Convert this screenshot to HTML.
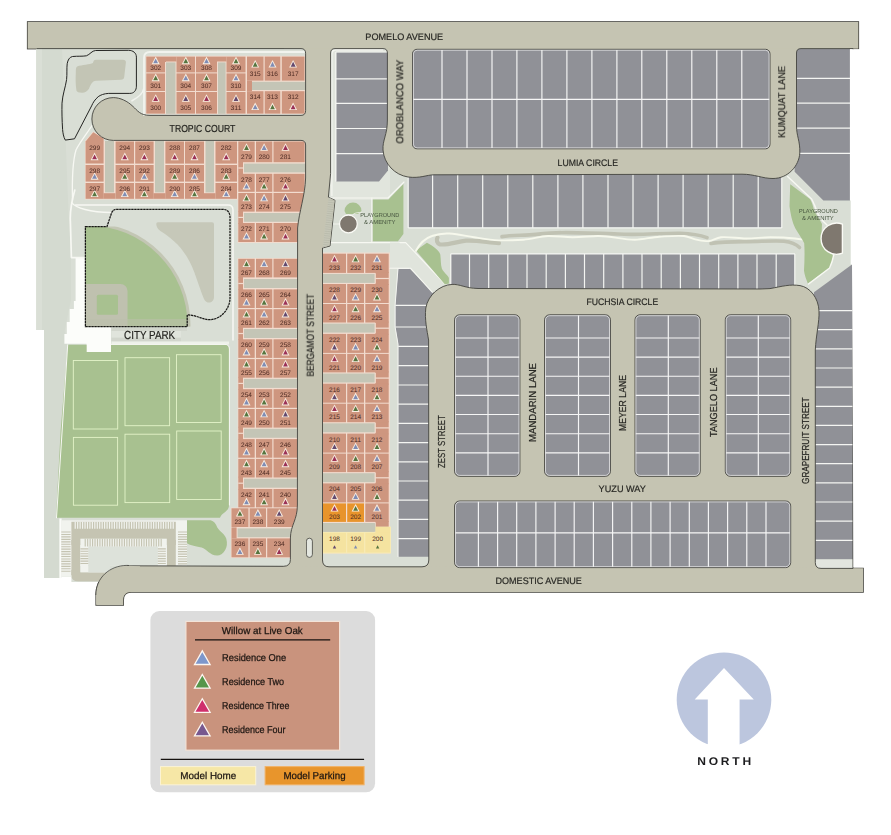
<!DOCTYPE html>
<html><head><meta charset="utf-8"><title>Willow at Live Oak Site Map</title>
<style>
html,body{margin:0;padding:0;background:#fff;}
body{width:891px;height:835px;overflow:hidden;font-family:"Liberation Sans",sans-serif;}
svg{display:block;font-family:"Liberation Sans",sans-serif;opacity:0.999;text-rendering:geometricPrecision;}
</style></head><body>
<svg width="891" height="835" viewBox="0 0 891 835">
<g>
<rect x="27.7" y="22.0" width="830.6" height="26.6" fill="#c5c4b2" stroke="#43433d" stroke-width="1.6" stroke-linejoin="miter"/>
<path d="M863,568.2 L863,592 L131,592 Q123.2,592 123.2,600 L123.2,605 L96.2,605 L96.2,595 C96.2,578 110,565.8 127,565.8 L300,566.3 Z" fill="#c5c4b2" stroke="#43433d" stroke-width="1.6" stroke-linejoin="miter"/>
<rect x="284.0" y="40.0" width="565.0" height="535.0" fill="#c5c4b2" />
<rect x="90.0" y="97.0" width="220.0" height="45.0" fill="#c5c4b2" />
<rect x="27.7" y="22.0" width="830.6" height="26.6" fill="#c5c4b2" />
<path d="M863,568.2 L863,592 L131,592 Q123.2,592 123.2,600 L123.2,605 L96.2,605 L96.2,595 C96.2,578 110,565.8 127,565.8 L300,566.3 Z" fill="#c5c4b2" />
</g>
<path d="M36.5,48.6 L301,48.6 Q305.6,48.6 305.6,53.2 L305.6,110.6 Q305.6,115.4 301,115.4 L150,115.4 C140,115.4 137.5,110.5 133,106.5 C127.5,101 120,97.6 113.3,97.6 A21.4,21.4 0 0 0 113.3,140.4 L301,140.4 Q305.6,140.4 305.6,145 L305.6,178 C305.2,195 299,212 297.6,228 L297.4,505 C297.4,520 290.6,525 290.4,538 L290.4,559.5 Q290.4,566.3 283.5,566.3 L127,565.8 L100,582 L71.4,582 L71.4,576.8 L61.3,576.8 L61.3,578 L44,578 L44,330 L36.5,330 Z" fill="#d9ded5" />
<path d="M36.5,48.6 L62,48.6 L68,200 L71,258 L71,300 L64.6,331 L67.7,344.8 L59.5,480 L59,578 L44,578 L44,330 L36.5,330 Z" fill="#d4dad0" />
<rect x="36.5" y="48.6" width="5.5" height="281.4" fill="#dadfd6" />
<path d="M75.6,257.6 L85.3,257.6 L85.3,327 L111,327 L111,352 L86.5,352 L86.5,343.8 L64.4,343.8 L64.4,334 L66.8,334 L66.8,322 L69.7,322 L69.7,309 L73.9,309 L73.9,301 L75.6,301 Z" fill="#fcfdfa" />
<path d="M77.1,66.4 C82,65 90,64.5 92.9,63.1 C93.5,61 94,59.8 96,59.8 L123,59.8 Q126,59.8 125.9,62.4 L124.2,77 Q123.9,79.7 121,79.8 L96,80.7 C92,81 90.5,85 89,88.7 C87,91.5 85,92.5 82.4,92.7 C79,92.8 77,92 76.5,90.7 C75.5,85 75.5,78 75.8,72.9 C75.8,69 76,67 77.1,66.4 Z" fill="#c3c5b5" />
<path d="M72.5,56.5 C78,56 82,56.5 86.4,55.8 C90,54.5 92,50.6 95.6,50.5 L128.5,50.3 C133,50.3 136.4,53 136.4,57.1 L136.4,86.1 C136.4,90.5 134,93.4 129.8,93.4 L108.7,93.4 C104,93.6 100.5,95 98.2,96.7 C95,99.5 93,102.5 91.6,105.9 L74.5,138.8 L65.3,140.1 C63.5,137 62.9,133 62.6,129.6 C62,120 61.8,112 62,103.2 C62.5,95 65.5,87 66.6,79.5 C67.2,74 66.6,68 67.2,63.7 C67.8,60 69.5,57 72.5,56.5 Z" fill="none" stroke="#242422" stroke-width="1.0"/>
<path d="M144,115 L144,58 Q144,52 150,52 L304,52" fill="none" stroke="#f1f3ee" stroke-width="1.8" stroke-linejoin="round" stroke-linecap="round" />
<path d="M74.8,190 C72,200 69.6,210 70.4,222 L71.4,257.6 L85,257.6" fill="none" stroke="#f7f8f3" stroke-width="1.7" stroke-linejoin="round" stroke-linecap="round" />
<path d="M71.6,202.6 C76,208 90,212.5 111,212.6" fill="none" stroke="#f7f8f3" stroke-width="1.5" stroke-linejoin="round" stroke-linecap="round" />
<path d="M75.6,205 L228,205 Q233,205 233,210 L233,340" fill="none" stroke="#f7f8f3" stroke-width="1.5" stroke-linejoin="round" stroke-linecap="round" />
<path d="M92,125.5 C88,132 80,142 76,150 C73,160 72,180 72.5,200" fill="none" stroke="#f7f8f3" stroke-width="1.3" stroke-linejoin="round" stroke-linecap="round" />
<path d="M143.6,89 C143,93.5 138,97.5 132,100.8" fill="none" stroke="#f1f3ee" stroke-width="1.6" stroke-linejoin="round" stroke-linecap="round" />
<rect x="145.6" y="55.8" width="159.4" height="58.4" fill="#f2dccf" />
<rect x="146.3" y="56.6" width="18.7" height="15.8" fill="#ce967f" />
<polygon points="155.7,56.6 159.7,64.2 151.7,64.2" fill="#f9eee2" />
<polygon points="155.7,58.4 158.1,63.3 153.2,63.3" fill="#7f8cb4" />
<text x="155.7" y="69.6" font-size="6.5" fill="#4c2a22" text-anchor="middle" textLength="10.9" lengthAdjust="spacingAndGlyphs" >302</text>
<rect x="146.3" y="73.4" width="18.7" height="17.6" fill="#ce967f" />
<polygon points="155.7,73.6 159.7,81.2 151.7,81.2" fill="#f9eee2" />
<polygon points="155.7,75.4 158.1,80.3 153.2,80.3" fill="#56753f" />
<text x="155.7" y="88.2" font-size="6.5" fill="#4c2a22" text-anchor="middle" textLength="10.9" lengthAdjust="spacingAndGlyphs" >301</text>
<rect x="146.3" y="92.0" width="18.7" height="21.6" fill="#ce967f" />
<polygon points="155.7,94.2 159.7,101.8 151.7,101.8" fill="#f9eee2" />
<polygon points="155.7,96.0 158.1,100.9 153.2,100.9" fill="#9a3156" />
<text x="155.7" y="109.8" font-size="6.5" fill="#4c2a22" text-anchor="middle" textLength="10.9" lengthAdjust="spacingAndGlyphs" >300</text>
<rect x="165.0" y="56.6" width="1.0" height="5.4" fill="#ce967f" />
<rect x="166.0" y="56.6" width="10.5" height="4.9" fill="#ce967f" />
<rect x="166.0" y="62.4" width="9.5" height="51.4" fill="#c4c5b6" />
<rect x="176.5" y="56.6" width="18.5" height="15.8" fill="#ce967f" />
<polygon points="185.8,56.6 189.8,64.2 181.8,64.2" fill="#f9eee2" />
<polygon points="185.8,58.4 188.2,63.3 183.3,63.3" fill="#56753f" />
<text x="185.8" y="69.6" font-size="6.5" fill="#4c2a22" text-anchor="middle" textLength="10.9" lengthAdjust="spacingAndGlyphs" >303</text>
<rect x="176.5" y="73.4" width="18.5" height="17.6" fill="#ce967f" />
<polygon points="185.8,73.6 189.8,81.2 181.8,81.2" fill="#f9eee2" />
<polygon points="185.8,75.4 188.2,80.3 183.3,80.3" fill="#7f8cb4" />
<text x="185.8" y="88.2" font-size="6.5" fill="#4c2a22" text-anchor="middle" textLength="10.9" lengthAdjust="spacingAndGlyphs" >304</text>
<rect x="176.5" y="92.0" width="18.5" height="21.6" fill="#ce967f" />
<polygon points="185.8,94.2 189.8,101.8 181.8,101.8" fill="#f9eee2" />
<polygon points="185.8,96.0 188.2,100.9 183.3,100.9" fill="#63496e" />
<text x="185.8" y="109.8" font-size="6.5" fill="#4c2a22" text-anchor="middle" textLength="10.9" lengthAdjust="spacingAndGlyphs" >305</text>
<rect x="196.0" y="56.6" width="21.0" height="15.8" fill="#ce967f" />
<polygon points="206.5,56.6 210.5,64.2 202.5,64.2" fill="#f9eee2" />
<polygon points="206.5,58.4 208.9,63.3 204.1,63.3" fill="#7f8cb4" />
<text x="206.5" y="69.6" font-size="6.5" fill="#4c2a22" text-anchor="middle" textLength="10.9" lengthAdjust="spacingAndGlyphs" >308</text>
<rect x="196.0" y="73.4" width="21.0" height="17.6" fill="#ce967f" />
<polygon points="206.5,73.6 210.5,81.2 202.5,81.2" fill="#f9eee2" />
<polygon points="206.5,75.4 208.9,80.3 204.1,80.3" fill="#56753f" />
<text x="206.5" y="88.2" font-size="6.5" fill="#4c2a22" text-anchor="middle" textLength="10.9" lengthAdjust="spacingAndGlyphs" >307</text>
<rect x="196.0" y="92.0" width="21.0" height="21.6" fill="#ce967f" />
<polygon points="206.5,94.2 210.5,101.8 202.5,101.8" fill="#f9eee2" />
<polygon points="206.5,96.0 208.9,100.9 204.1,100.9" fill="#9a3156" />
<text x="206.5" y="109.8" font-size="6.5" fill="#4c2a22" text-anchor="middle" textLength="10.9" lengthAdjust="spacingAndGlyphs" >306</text>
<rect x="217.0" y="56.6" width="9.5" height="4.9" fill="#ce967f" />
<rect x="218.0" y="62.4" width="7.6" height="51.4" fill="#c4c5b6" />
<rect x="226.5" y="56.6" width="19.0" height="15.8" fill="#ce967f" />
<polygon points="236.0,56.6 240.0,64.2 232.0,64.2" fill="#f9eee2" />
<polygon points="236.0,58.4 238.4,63.3 233.6,63.3" fill="#56753f" />
<text x="236.0" y="69.6" font-size="6.5" fill="#4c2a22" text-anchor="middle" textLength="10.9" lengthAdjust="spacingAndGlyphs" >309</text>
<rect x="226.5" y="73.4" width="19.0" height="17.6" fill="#ce967f" />
<polygon points="236.0,73.6 240.0,81.2 232.0,81.2" fill="#f9eee2" />
<polygon points="236.0,75.4 238.4,80.3 233.6,80.3" fill="#7f8cb4" />
<text x="236.0" y="88.2" font-size="6.5" fill="#4c2a22" text-anchor="middle" textLength="10.9" lengthAdjust="spacingAndGlyphs" >310</text>
<rect x="226.5" y="92.0" width="19.0" height="21.6" fill="#ce967f" />
<polygon points="236.0,94.2 240.0,101.8 232.0,101.8" fill="#f9eee2" />
<polygon points="236.0,96.0 238.4,100.9 233.6,100.9" fill="#63496e" />
<text x="236.0" y="109.8" font-size="6.5" fill="#4c2a22" text-anchor="middle" textLength="10.9" lengthAdjust="spacingAndGlyphs" >311</text>
<rect x="247.0" y="56.6" width="16.5" height="24.0" fill="#ce967f" />
<polygon points="255.2,60.0 259.2,67.6 251.2,67.6" fill="#f9eee2" />
<polygon points="255.2,61.8 257.7,66.7 252.8,66.7" fill="#56753f" />
<text x="255.2" y="75.6" font-size="6.5" fill="#4c2a22" text-anchor="middle" textLength="10.9" lengthAdjust="spacingAndGlyphs" >315</text>
<rect x="264.7" y="56.6" width="15.6" height="24.0" fill="#ce967f" />
<polygon points="272.5,60.0 276.5,67.6 268.5,67.6" fill="#f9eee2" />
<polygon points="272.5,61.8 274.9,66.7 270.1,66.7" fill="#7f8cb4" />
<text x="272.5" y="75.6" font-size="6.5" fill="#4c2a22" text-anchor="middle" textLength="10.9" lengthAdjust="spacingAndGlyphs" >316</text>
<rect x="281.8" y="56.6" width="22.7" height="24.0" fill="#ce967f" />
<polygon points="293.1,60.0 297.1,67.6 289.1,67.6" fill="#f9eee2" />
<polygon points="293.1,61.8 295.6,66.7 290.7,66.7" fill="#63496e" />
<text x="293.1" y="75.6" font-size="6.5" fill="#4c2a22" text-anchor="middle" textLength="10.9" lengthAdjust="spacingAndGlyphs" >317</text>
<rect x="247.0" y="91.2" width="16.5" height="22.4" fill="#ce967f" />
<polygon points="255.2,102.6 259.2,110.1 251.2,110.1" fill="#f9eee2" />
<polygon points="255.2,104.4 257.7,109.2 252.8,109.2" fill="#7f8cb4" />
<text x="255.2" y="99.2" font-size="6.5" fill="#4c2a22" text-anchor="middle" textLength="10.9" lengthAdjust="spacingAndGlyphs" >314</text>
<rect x="264.7" y="91.2" width="15.6" height="22.4" fill="#ce967f" />
<polygon points="272.5,102.6 276.5,110.1 268.5,110.1" fill="#f9eee2" />
<polygon points="272.5,104.4 274.9,109.2 270.1,109.2" fill="#56753f" />
<text x="272.5" y="99.2" font-size="6.5" fill="#4c2a22" text-anchor="middle" textLength="10.9" lengthAdjust="spacingAndGlyphs" >313</text>
<rect x="281.8" y="91.2" width="22.7" height="22.4" fill="#ce967f" />
<polygon points="293.1,102.6 297.1,110.1 289.1,110.1" fill="#f9eee2" />
<polygon points="293.1,104.4 295.6,109.2 290.7,109.2" fill="#9a3156" />
<text x="293.1" y="99.2" font-size="6.5" fill="#4c2a22" text-anchor="middle" textLength="10.9" lengthAdjust="spacingAndGlyphs" >312</text>
<rect x="247.0" y="80.6" width="5.0" height="10.6" fill="#ce967f" />
<rect x="252.0" y="81.8" width="53.0" height="8.2" fill="#c4c5b6" />
<path d="M85,199.6 L85,141 L93,131.5 L104,138 L104,141 L305,141 L305,178 C304.6,195 299,212 297.6,228 L297.6,243 L237.6,243 L237.6,199.6 Z" fill="#f2dccf" />
<polygon points="85.6,141.5 93.3,132.3 103.6,138.5 103.6,163.6 85.6,163.6" fill="#ce967f" />
<polygon points="94.6,152.6 98.6,160.2 90.6,160.2" fill="#f9eee2" />
<polygon points="94.6,154.4 97.0,159.3 92.1,159.3" fill="#9a3156" />
<text x="94.6" y="149.5" font-size="6.5" fill="#4c2a22" text-anchor="middle" textLength="10.9" lengthAdjust="spacingAndGlyphs" >299</text>
<rect x="85.6" y="165.0" width="18.0" height="16.6" fill="#ce967f" />
<polygon points="94.6,172.2 98.6,179.7 90.6,179.7" fill="#f9eee2" />
<polygon points="94.6,174.0 97.0,178.8 92.1,178.8" fill="#7f8cb4" />
<text x="94.6" y="173.0" font-size="6.5" fill="#4c2a22" text-anchor="middle" textLength="10.9" lengthAdjust="spacingAndGlyphs" >298</text>
<rect x="85.6" y="183.0" width="18.0" height="15.8" fill="#ce967f" />
<polygon points="94.6,189.6 98.6,197.1 90.6,197.1" fill="#f9eee2" />
<polygon points="94.6,191.4 97.0,196.2 92.1,196.2" fill="#56753f" />
<text x="94.6" y="191.0" font-size="6.5" fill="#4c2a22" text-anchor="middle" textLength="10.9" lengthAdjust="spacingAndGlyphs" >297</text>
<rect x="103.5" y="193.2" width="12.0" height="5.6" fill="#ce967f" />
<rect x="105.0" y="141.0" width="9.0" height="51.4" fill="#c4c5b6" />
<rect x="115.6" y="141.5" width="18.4" height="22.1" fill="#ce967f" />
<polygon points="124.8,152.6 128.8,160.2 120.8,160.2" fill="#f9eee2" />
<polygon points="124.8,154.4 127.2,159.3 122.3,159.3" fill="#9a3156" />
<text x="124.8" y="149.5" font-size="6.5" fill="#4c2a22" text-anchor="middle" textLength="10.9" lengthAdjust="spacingAndGlyphs" >294</text>
<rect x="115.6" y="165.0" width="18.4" height="16.6" fill="#ce967f" />
<polygon points="124.8,172.2 128.8,179.7 120.8,179.7" fill="#f9eee2" />
<polygon points="124.8,174.0 127.2,178.8 122.3,178.8" fill="#56753f" />
<text x="124.8" y="173.0" font-size="6.5" fill="#4c2a22" text-anchor="middle" textLength="10.9" lengthAdjust="spacingAndGlyphs" >295</text>
<rect x="115.6" y="183.0" width="18.4" height="15.8" fill="#ce967f" />
<polygon points="124.8,189.6 128.8,197.1 120.8,197.1" fill="#f9eee2" />
<polygon points="124.8,191.4 127.2,196.2 122.3,196.2" fill="#7f8cb4" />
<text x="124.8" y="191.0" font-size="6.5" fill="#4c2a22" text-anchor="middle" textLength="10.9" lengthAdjust="spacingAndGlyphs" >296</text>
<rect x="135.2" y="141.5" width="18.4" height="22.1" fill="#ce967f" />
<polygon points="144.4,152.6 148.4,160.2 140.4,160.2" fill="#f9eee2" />
<polygon points="144.4,154.4 146.8,159.3 141.9,159.3" fill="#9a3156" />
<text x="144.4" y="149.5" font-size="6.5" fill="#4c2a22" text-anchor="middle" textLength="10.9" lengthAdjust="spacingAndGlyphs" >293</text>
<rect x="135.2" y="165.0" width="18.4" height="16.6" fill="#ce967f" />
<polygon points="144.4,172.2 148.4,179.7 140.4,179.7" fill="#f9eee2" />
<polygon points="144.4,174.0 146.8,178.8 141.9,178.8" fill="#7f8cb4" />
<text x="144.4" y="173.0" font-size="6.5" fill="#4c2a22" text-anchor="middle" textLength="10.9" lengthAdjust="spacingAndGlyphs" >292</text>
<rect x="135.2" y="183.0" width="18.4" height="15.8" fill="#ce967f" />
<polygon points="144.4,189.6 148.4,197.1 140.4,197.1" fill="#f9eee2" />
<polygon points="144.4,191.4 146.8,196.2 141.9,196.2" fill="#56753f" />
<text x="144.4" y="191.0" font-size="6.5" fill="#4c2a22" text-anchor="middle" textLength="10.9" lengthAdjust="spacingAndGlyphs" >291</text>
<rect x="153.5" y="193.2" width="12.0" height="5.6" fill="#ce967f" />
<rect x="155.0" y="141.0" width="9.0" height="51.4" fill="#c4c5b6" />
<rect x="165.4" y="141.5" width="18.6" height="22.1" fill="#ce967f" />
<polygon points="174.7,152.6 178.7,160.2 170.7,160.2" fill="#f9eee2" />
<polygon points="174.7,154.4 177.1,159.3 172.2,159.3" fill="#9a3156" />
<text x="174.7" y="149.5" font-size="6.5" fill="#4c2a22" text-anchor="middle" textLength="10.9" lengthAdjust="spacingAndGlyphs" >288</text>
<rect x="165.4" y="165.0" width="18.6" height="16.6" fill="#ce967f" />
<polygon points="174.7,172.2 178.7,179.7 170.7,179.7" fill="#f9eee2" />
<polygon points="174.7,174.0 177.1,178.8 172.2,178.8" fill="#56753f" />
<text x="174.7" y="173.0" font-size="6.5" fill="#4c2a22" text-anchor="middle" textLength="10.9" lengthAdjust="spacingAndGlyphs" >289</text>
<rect x="165.4" y="183.0" width="18.6" height="15.8" fill="#ce967f" />
<polygon points="174.7,189.6 178.7,197.1 170.7,197.1" fill="#f9eee2" />
<polygon points="174.7,191.4 177.1,196.2 172.2,196.2" fill="#7f8cb4" />
<text x="174.7" y="191.0" font-size="6.5" fill="#4c2a22" text-anchor="middle" textLength="10.9" lengthAdjust="spacingAndGlyphs" >290</text>
<rect x="185.0" y="141.5" width="19.0" height="22.1" fill="#ce967f" />
<polygon points="194.5,152.6 198.5,160.2 190.5,160.2" fill="#f9eee2" />
<polygon points="194.5,154.4 196.9,159.3 192.1,159.3" fill="#9a3156" />
<text x="194.5" y="149.5" font-size="6.5" fill="#4c2a22" text-anchor="middle" textLength="10.9" lengthAdjust="spacingAndGlyphs" >287</text>
<rect x="185.0" y="165.0" width="19.0" height="16.6" fill="#ce967f" />
<polygon points="194.5,172.2 198.5,179.7 190.5,179.7" fill="#f9eee2" />
<polygon points="194.5,174.0 196.9,178.8 192.1,178.8" fill="#7f8cb4" />
<text x="194.5" y="173.0" font-size="6.5" fill="#4c2a22" text-anchor="middle" textLength="10.9" lengthAdjust="spacingAndGlyphs" >286</text>
<rect x="185.0" y="183.0" width="19.0" height="15.8" fill="#ce967f" />
<polygon points="194.5,189.6 198.5,197.1 190.5,197.1" fill="#f9eee2" />
<polygon points="194.5,191.4 196.9,196.2 192.1,196.2" fill="#56753f" />
<text x="194.5" y="191.0" font-size="6.5" fill="#4c2a22" text-anchor="middle" textLength="10.9" lengthAdjust="spacingAndGlyphs" >285</text>
<rect x="204.0" y="193.2" width="11.5" height="5.6" fill="#ce967f" />
<rect x="205.5" y="141.0" width="8.5" height="51.4" fill="#c4c5b6" />
<rect x="215.5" y="141.5" width="21.5" height="22.1" fill="#ce967f" />
<polygon points="226.2,152.6 230.2,160.2 222.2,160.2" fill="#f9eee2" />
<polygon points="226.2,154.4 228.7,159.3 223.8,159.3" fill="#9a3156" />
<text x="226.2" y="149.5" font-size="6.5" fill="#4c2a22" text-anchor="middle" textLength="10.9" lengthAdjust="spacingAndGlyphs" >282</text>
<rect x="215.5" y="165.0" width="21.5" height="16.6" fill="#ce967f" />
<polygon points="226.2,172.2 230.2,179.7 222.2,179.7" fill="#f9eee2" />
<polygon points="226.2,174.0 228.7,178.8 223.8,178.8" fill="#56753f" />
<text x="226.2" y="173.0" font-size="6.5" fill="#4c2a22" text-anchor="middle" textLength="10.9" lengthAdjust="spacingAndGlyphs" >283</text>
<rect x="215.5" y="183.0" width="21.5" height="15.8" fill="#ce967f" />
<polygon points="226.2,189.6 230.2,197.1 222.2,197.1" fill="#f9eee2" />
<polygon points="226.2,191.4 228.7,196.2 223.8,196.2" fill="#7f8cb4" />
<text x="226.2" y="191.0" font-size="6.5" fill="#4c2a22" text-anchor="middle" textLength="10.9" lengthAdjust="spacingAndGlyphs" >284</text>
<clipPath id="cw"><path d="M36.5,48.6 L301,48.6 Q305.6,48.6 305.6,53.2 L305.6,110.6 Q305.6,115.4 301,115.4 L150,115.4 C140,115.4 137.5,110.5 133,106.5 C127.5,101 120,97.6 113.3,97.6 A21.4,21.4 0 0 0 113.3,140.4 L301,140.4 Q305.6,140.4 305.6,145 L305.6,178 C305.2,195 299,212 297.6,228 L297.4,505 C297.4,520 290.6,525 290.4,538 L290.4,559.5 Q290.4,566.3 283.5,566.3 L127,565.8 L100,582 L71.4,582 L71.4,576.8 L61.3,576.8 L61.3,578 L44,578 L44,330 L36.5,330 Z"/></clipPath>
<g clip-path="url(#cw)">
<rect x="238.3" y="141.5" width="16.4" height="20.7" fill="#ce967f" />
<polygon points="246.5,143.3 250.5,150.8 242.5,150.8" fill="#f9eee2" />
<polygon points="246.5,145.1 248.9,149.9 244.1,149.9" fill="#56753f" />
<text x="246.5" y="158.8" font-size="6.5" fill="#4c2a22" text-anchor="middle" textLength="10.9" lengthAdjust="spacingAndGlyphs" >279</text>
<rect x="256.0" y="141.5" width="16.3" height="20.7" fill="#ce967f" />
<polygon points="264.1,143.3 268.1,150.8 260.1,150.8" fill="#f9eee2" />
<polygon points="264.1,145.1 266.6,149.9 261.7,149.9" fill="#7f8cb4" />
<text x="264.1" y="158.8" font-size="6.5" fill="#4c2a22" text-anchor="middle" textLength="10.9" lengthAdjust="spacingAndGlyphs" >280</text>
<rect x="273.5" y="141.5" width="31.1" height="20.7" fill="#ce967f" />
<polygon points="285.5,143.3 289.5,150.8 281.5,150.8" fill="#f9eee2" />
<polygon points="285.5,145.1 287.9,149.9 283.1,149.9" fill="#9a3156" />
<text x="285.5" y="158.8" font-size="6.5" fill="#4c2a22" text-anchor="middle" textLength="10.9" lengthAdjust="spacingAndGlyphs" >281</text>
<rect x="238.3" y="161.6" width="4.7" height="12.8" fill="#ce967f" />
<rect x="238.3" y="167.4" width="4.7" height="1.2" fill="#f2dccf" />
<rect x="244.0" y="163.6" width="62.0" height="8.8" fill="#c4c5b6" />
<rect x="238.3" y="173.8" width="16.4" height="18.0" fill="#ce967f" />
<polygon points="246.5,182.0 250.5,189.5 242.5,189.5" fill="#f9eee2" />
<polygon points="246.5,183.8 248.9,188.6 244.1,188.6" fill="#7f8cb4" />
<text x="246.5" y="181.8" font-size="6.5" fill="#4c2a22" text-anchor="middle" textLength="10.9" lengthAdjust="spacingAndGlyphs" >278</text>
<rect x="256.0" y="173.8" width="16.3" height="18.0" fill="#ce967f" />
<polygon points="264.1,182.0 268.1,189.5 260.1,189.5" fill="#f9eee2" />
<polygon points="264.1,183.8 266.6,188.6 261.7,188.6" fill="#56753f" />
<text x="264.1" y="181.8" font-size="6.5" fill="#4c2a22" text-anchor="middle" textLength="10.9" lengthAdjust="spacingAndGlyphs" >277</text>
<rect x="273.5" y="173.8" width="31.1" height="18.0" fill="#ce967f" />
<polygon points="285.5,182.0 289.5,189.5 281.5,189.5" fill="#f9eee2" />
<polygon points="285.5,183.8 287.9,188.6 283.1,188.6" fill="#9a3156" />
<text x="285.5" y="181.8" font-size="6.5" fill="#4c2a22" text-anchor="middle" textLength="10.9" lengthAdjust="spacingAndGlyphs" >276</text>
<rect x="238.3" y="193.0" width="16.4" height="18.6" fill="#ce967f" />
<polygon points="246.5,193.7 250.5,201.3 242.5,201.3" fill="#f9eee2" />
<polygon points="246.5,195.5 248.9,200.4 244.1,200.4" fill="#56753f" />
<text x="246.5" y="208.8" font-size="6.5" fill="#4c2a22" text-anchor="middle" textLength="10.9" lengthAdjust="spacingAndGlyphs" >273</text>
<rect x="256.0" y="193.0" width="16.3" height="18.6" fill="#ce967f" />
<polygon points="264.1,193.7 268.1,201.3 260.1,201.3" fill="#f9eee2" />
<polygon points="264.1,195.5 266.6,200.4 261.7,200.4" fill="#7f8cb4" />
<text x="264.1" y="208.8" font-size="6.5" fill="#4c2a22" text-anchor="middle" textLength="10.9" lengthAdjust="spacingAndGlyphs" >274</text>
<rect x="273.5" y="193.0" width="31.1" height="18.6" fill="#ce967f" />
<polygon points="285.5,193.7 289.5,201.3 281.5,201.3" fill="#f9eee2" />
<polygon points="285.5,195.5 287.9,200.4 283.1,200.4" fill="#63496e" />
<text x="285.5" y="208.8" font-size="6.5" fill="#4c2a22" text-anchor="middle" textLength="10.9" lengthAdjust="spacingAndGlyphs" >275</text>
<rect x="238.3" y="211.0" width="4.7" height="12.8" fill="#ce967f" />
<rect x="238.3" y="216.8" width="4.7" height="1.2" fill="#f2dccf" />
<rect x="244.0" y="213.0" width="62.0" height="8.8" fill="#c4c5b6" />
<rect x="238.3" y="223.0" width="16.4" height="19.0" fill="#ce967f" />
<polygon points="246.5,231.9 250.5,239.5 242.5,239.5" fill="#f9eee2" />
<polygon points="246.5,233.7 248.9,238.6 244.1,238.6" fill="#7f8cb4" />
<text x="246.5" y="231.0" font-size="6.5" fill="#4c2a22" text-anchor="middle" textLength="10.9" lengthAdjust="spacingAndGlyphs" >272</text>
<rect x="256.0" y="223.0" width="16.3" height="19.0" fill="#ce967f" />
<polygon points="264.1,231.9 268.1,239.5 260.1,239.5" fill="#f9eee2" />
<polygon points="264.1,233.7 266.6,238.6 261.7,238.6" fill="#56753f" />
<text x="264.1" y="231.0" font-size="6.5" fill="#4c2a22" text-anchor="middle" textLength="10.9" lengthAdjust="spacingAndGlyphs" >271</text>
<rect x="273.5" y="223.0" width="31.1" height="19.0" fill="#ce967f" />
<polygon points="285.5,231.9 289.5,239.5 281.5,239.5" fill="#f9eee2" />
<polygon points="285.5,233.7 287.9,238.6 283.1,238.6" fill="#9a3156" />
<text x="285.5" y="231.0" font-size="6.5" fill="#4c2a22" text-anchor="middle" textLength="10.9" lengthAdjust="spacingAndGlyphs" >270</text>
<rect x="237.6" y="258.0" width="62.4" height="250.0" fill="#f2dccf" />
<rect x="238.3" y="258.8" width="16.4" height="18.6" fill="#ce967f" />
<polygon points="246.5,259.5 250.5,267.1 242.5,267.1" fill="#f9eee2" />
<polygon points="246.5,261.3 248.9,266.2 244.1,266.2" fill="#56753f" />
<text x="246.5" y="274.6" font-size="6.5" fill="#4c2a22" text-anchor="middle" textLength="10.9" lengthAdjust="spacingAndGlyphs" >267</text>
<rect x="256.0" y="258.8" width="16.3" height="18.6" fill="#ce967f" />
<polygon points="264.1,259.5 268.1,267.1 260.1,267.1" fill="#f9eee2" />
<polygon points="264.1,261.3 266.6,266.2 261.7,266.2" fill="#7f8cb4" />
<text x="264.1" y="274.6" font-size="6.5" fill="#4c2a22" text-anchor="middle" textLength="10.9" lengthAdjust="spacingAndGlyphs" >268</text>
<rect x="273.5" y="258.8" width="26.5" height="18.6" fill="#ce967f" />
<polygon points="285.5,259.5 289.5,267.1 281.5,267.1" fill="#f9eee2" />
<polygon points="285.5,261.3 287.9,266.2 283.1,266.2" fill="#63496e" />
<text x="285.5" y="274.6" font-size="6.5" fill="#4c2a22" text-anchor="middle" textLength="10.9" lengthAdjust="spacingAndGlyphs" >269</text>
<rect x="238.3" y="277.0" width="4.7" height="13.0" fill="#ce967f" />
<rect x="238.3" y="282.9" width="4.7" height="1.2" fill="#f2dccf" />
<rect x="244.0" y="279.0" width="62.0" height="9.0" fill="#c4c5b6" />
<rect x="238.3" y="289.4" width="16.4" height="18.6" fill="#ce967f" />
<polygon points="246.5,298.0 250.5,305.6 242.5,305.6" fill="#f9eee2" />
<polygon points="246.5,299.8 248.9,304.7 244.1,304.7" fill="#7f8cb4" />
<text x="246.5" y="297.4" font-size="6.5" fill="#4c2a22" text-anchor="middle" textLength="10.9" lengthAdjust="spacingAndGlyphs" >266</text>
<rect x="256.0" y="289.4" width="16.3" height="18.6" fill="#ce967f" />
<polygon points="264.1,298.0 268.1,305.6 260.1,305.6" fill="#f9eee2" />
<polygon points="264.1,299.8 266.6,304.7 261.7,304.7" fill="#56753f" />
<text x="264.1" y="297.4" font-size="6.5" fill="#4c2a22" text-anchor="middle" textLength="10.9" lengthAdjust="spacingAndGlyphs" >265</text>
<rect x="273.5" y="289.4" width="26.5" height="18.6" fill="#ce967f" />
<polygon points="285.5,298.0 289.5,305.6 281.5,305.6" fill="#f9eee2" />
<polygon points="285.5,299.8 287.9,304.7 283.1,304.7" fill="#9a3156" />
<text x="285.5" y="297.4" font-size="6.5" fill="#4c2a22" text-anchor="middle" textLength="10.9" lengthAdjust="spacingAndGlyphs" >264</text>
<rect x="238.3" y="309.2" width="16.4" height="18.6" fill="#ce967f" />
<polygon points="246.5,309.9 250.5,317.5 242.5,317.5" fill="#f9eee2" />
<polygon points="246.5,311.7 248.9,316.6 244.1,316.6" fill="#56753f" />
<text x="246.5" y="325.0" font-size="6.5" fill="#4c2a22" text-anchor="middle" textLength="10.9" lengthAdjust="spacingAndGlyphs" >261</text>
<rect x="256.0" y="309.2" width="16.3" height="18.6" fill="#ce967f" />
<polygon points="264.1,309.9 268.1,317.5 260.1,317.5" fill="#f9eee2" />
<polygon points="264.1,311.7 266.6,316.6 261.7,316.6" fill="#7f8cb4" />
<text x="264.1" y="325.0" font-size="6.5" fill="#4c2a22" text-anchor="middle" textLength="10.9" lengthAdjust="spacingAndGlyphs" >262</text>
<rect x="273.5" y="309.2" width="26.5" height="18.6" fill="#ce967f" />
<polygon points="285.5,309.9 289.5,317.5 281.5,317.5" fill="#f9eee2" />
<polygon points="285.5,311.7 287.9,316.6 283.1,316.6" fill="#63496e" />
<text x="285.5" y="325.0" font-size="6.5" fill="#4c2a22" text-anchor="middle" textLength="10.9" lengthAdjust="spacingAndGlyphs" >263</text>
<rect x="238.3" y="327.0" width="4.7" height="13.0" fill="#ce967f" />
<rect x="238.3" y="332.9" width="4.7" height="1.2" fill="#f2dccf" />
<rect x="244.0" y="329.0" width="62.0" height="9.0" fill="#c4c5b6" />
<rect x="238.3" y="339.3" width="16.4" height="18.6" fill="#ce967f" />
<polygon points="246.5,347.9 250.5,355.5 242.5,355.5" fill="#f9eee2" />
<polygon points="246.5,349.7 248.9,354.6 244.1,354.6" fill="#7f8cb4" />
<text x="246.5" y="347.3" font-size="6.5" fill="#4c2a22" text-anchor="middle" textLength="10.9" lengthAdjust="spacingAndGlyphs" >260</text>
<rect x="256.0" y="339.3" width="16.3" height="18.6" fill="#ce967f" />
<polygon points="264.1,347.9 268.1,355.5 260.1,355.5" fill="#f9eee2" />
<polygon points="264.1,349.7 266.6,354.6 261.7,354.6" fill="#56753f" />
<text x="264.1" y="347.3" font-size="6.5" fill="#4c2a22" text-anchor="middle" textLength="10.9" lengthAdjust="spacingAndGlyphs" >259</text>
<rect x="273.5" y="339.3" width="26.5" height="18.6" fill="#ce967f" />
<polygon points="285.5,347.9 289.5,355.5 281.5,355.5" fill="#f9eee2" />
<polygon points="285.5,349.7 287.9,354.6 283.1,354.6" fill="#9a3156" />
<text x="285.5" y="347.3" font-size="6.5" fill="#4c2a22" text-anchor="middle" textLength="10.9" lengthAdjust="spacingAndGlyphs" >258</text>
<rect x="238.3" y="359.1" width="16.4" height="18.6" fill="#ce967f" />
<polygon points="246.5,359.8 250.5,367.4 242.5,367.4" fill="#f9eee2" />
<polygon points="246.5,361.6 248.9,366.5 244.1,366.5" fill="#56753f" />
<text x="246.5" y="374.9" font-size="6.5" fill="#4c2a22" text-anchor="middle" textLength="10.9" lengthAdjust="spacingAndGlyphs" >255</text>
<rect x="256.0" y="359.1" width="16.3" height="18.6" fill="#ce967f" />
<polygon points="264.1,359.8 268.1,367.4 260.1,367.4" fill="#f9eee2" />
<polygon points="264.1,361.6 266.6,366.5 261.7,366.5" fill="#7f8cb4" />
<text x="264.1" y="374.9" font-size="6.5" fill="#4c2a22" text-anchor="middle" textLength="10.9" lengthAdjust="spacingAndGlyphs" >256</text>
<rect x="273.5" y="359.1" width="26.5" height="18.6" fill="#ce967f" />
<polygon points="285.5,359.8 289.5,367.4 281.5,367.4" fill="#f9eee2" />
<polygon points="285.5,361.6 287.9,366.5 283.1,366.5" fill="#9a3156" />
<text x="285.5" y="374.9" font-size="6.5" fill="#4c2a22" text-anchor="middle" textLength="10.9" lengthAdjust="spacingAndGlyphs" >257</text>
<rect x="238.3" y="376.9" width="4.7" height="13.0" fill="#ce967f" />
<rect x="238.3" y="382.8" width="4.7" height="1.2" fill="#f2dccf" />
<rect x="244.0" y="378.9" width="62.0" height="9.0" fill="#c4c5b6" />
<rect x="238.3" y="389.2" width="16.4" height="18.6" fill="#ce967f" />
<polygon points="246.5,397.8 250.5,405.4 242.5,405.4" fill="#f9eee2" />
<polygon points="246.5,399.6 248.9,404.5 244.1,404.5" fill="#7f8cb4" />
<text x="246.5" y="397.2" font-size="6.5" fill="#4c2a22" text-anchor="middle" textLength="10.9" lengthAdjust="spacingAndGlyphs" >254</text>
<rect x="256.0" y="389.2" width="16.3" height="18.6" fill="#ce967f" />
<polygon points="264.1,397.8 268.1,405.4 260.1,405.4" fill="#f9eee2" />
<polygon points="264.1,399.6 266.6,404.5 261.7,404.5" fill="#56753f" />
<text x="264.1" y="397.2" font-size="6.5" fill="#4c2a22" text-anchor="middle" textLength="10.9" lengthAdjust="spacingAndGlyphs" >253</text>
<rect x="273.5" y="389.2" width="26.5" height="18.6" fill="#ce967f" />
<polygon points="285.5,397.8 289.5,405.4 281.5,405.4" fill="#f9eee2" />
<polygon points="285.5,399.6 287.9,404.5 283.1,404.5" fill="#9a3156" />
<text x="285.5" y="397.2" font-size="6.5" fill="#4c2a22" text-anchor="middle" textLength="10.9" lengthAdjust="spacingAndGlyphs" >252</text>
<rect x="238.3" y="409.0" width="16.4" height="18.6" fill="#ce967f" />
<polygon points="246.5,409.7 250.5,417.3 242.5,417.3" fill="#f9eee2" />
<polygon points="246.5,411.5 248.9,416.4 244.1,416.4" fill="#56753f" />
<text x="246.5" y="424.8" font-size="6.5" fill="#4c2a22" text-anchor="middle" textLength="10.9" lengthAdjust="spacingAndGlyphs" >249</text>
<rect x="256.0" y="409.0" width="16.3" height="18.6" fill="#ce967f" />
<polygon points="264.1,409.7 268.1,417.3 260.1,417.3" fill="#f9eee2" />
<polygon points="264.1,411.5 266.6,416.4 261.7,416.4" fill="#7f8cb4" />
<text x="264.1" y="424.8" font-size="6.5" fill="#4c2a22" text-anchor="middle" textLength="10.9" lengthAdjust="spacingAndGlyphs" >250</text>
<rect x="273.5" y="409.0" width="26.5" height="18.6" fill="#ce967f" />
<polygon points="285.5,409.7 289.5,417.3 281.5,417.3" fill="#f9eee2" />
<polygon points="285.5,411.5 287.9,416.4 283.1,416.4" fill="#63496e" />
<text x="285.5" y="424.8" font-size="6.5" fill="#4c2a22" text-anchor="middle" textLength="10.9" lengthAdjust="spacingAndGlyphs" >251</text>
<rect x="238.3" y="426.8" width="4.7" height="13.0" fill="#ce967f" />
<rect x="238.3" y="432.7" width="4.7" height="1.2" fill="#f2dccf" />
<rect x="244.0" y="428.8" width="62.0" height="9.0" fill="#c4c5b6" />
<rect x="238.3" y="439.1" width="16.4" height="18.6" fill="#ce967f" />
<polygon points="246.5,447.7 250.5,455.3 242.5,455.3" fill="#f9eee2" />
<polygon points="246.5,449.5 248.9,454.4 244.1,454.4" fill="#7f8cb4" />
<text x="246.5" y="447.1" font-size="6.5" fill="#4c2a22" text-anchor="middle" textLength="10.9" lengthAdjust="spacingAndGlyphs" >248</text>
<rect x="256.0" y="439.1" width="16.3" height="18.6" fill="#ce967f" />
<polygon points="264.1,447.7 268.1,455.3 260.1,455.3" fill="#f9eee2" />
<polygon points="264.1,449.5 266.6,454.4 261.7,454.4" fill="#56753f" />
<text x="264.1" y="447.1" font-size="6.5" fill="#4c2a22" text-anchor="middle" textLength="10.9" lengthAdjust="spacingAndGlyphs" >247</text>
<rect x="273.5" y="439.1" width="26.5" height="18.6" fill="#ce967f" />
<polygon points="285.5,447.7 289.5,455.3 281.5,455.3" fill="#f9eee2" />
<polygon points="285.5,449.5 287.9,454.4 283.1,454.4" fill="#9a3156" />
<text x="285.5" y="447.1" font-size="6.5" fill="#4c2a22" text-anchor="middle" textLength="10.9" lengthAdjust="spacingAndGlyphs" >246</text>
<rect x="238.3" y="458.9" width="16.4" height="18.6" fill="#ce967f" />
<polygon points="246.5,459.6 250.5,467.2 242.5,467.2" fill="#f9eee2" />
<polygon points="246.5,461.4 248.9,466.3 244.1,466.3" fill="#56753f" />
<text x="246.5" y="474.7" font-size="6.5" fill="#4c2a22" text-anchor="middle" textLength="10.9" lengthAdjust="spacingAndGlyphs" >243</text>
<rect x="256.0" y="458.9" width="16.3" height="18.6" fill="#ce967f" />
<polygon points="264.1,459.6 268.1,467.2 260.1,467.2" fill="#f9eee2" />
<polygon points="264.1,461.4 266.6,466.3 261.7,466.3" fill="#7f8cb4" />
<text x="264.1" y="474.7" font-size="6.5" fill="#4c2a22" text-anchor="middle" textLength="10.9" lengthAdjust="spacingAndGlyphs" >244</text>
<rect x="273.5" y="458.9" width="26.5" height="18.6" fill="#ce967f" />
<polygon points="285.5,459.6 289.5,467.2 281.5,467.2" fill="#f9eee2" />
<polygon points="285.5,461.4 287.9,466.3 283.1,466.3" fill="#9a3156" />
<text x="285.5" y="474.7" font-size="6.5" fill="#4c2a22" text-anchor="middle" textLength="10.9" lengthAdjust="spacingAndGlyphs" >245</text>
<rect x="238.3" y="476.7" width="4.7" height="13.0" fill="#ce967f" />
<rect x="238.3" y="482.6" width="4.7" height="1.2" fill="#f2dccf" />
<rect x="244.0" y="478.7" width="62.0" height="9.0" fill="#c4c5b6" />
<rect x="238.3" y="489.0" width="16.4" height="18.6" fill="#ce967f" />
<polygon points="246.5,497.6 250.5,505.2 242.5,505.2" fill="#f9eee2" />
<polygon points="246.5,499.4 248.9,504.3 244.1,504.3" fill="#7f8cb4" />
<text x="246.5" y="497.0" font-size="6.5" fill="#4c2a22" text-anchor="middle" textLength="10.9" lengthAdjust="spacingAndGlyphs" >242</text>
<rect x="256.0" y="489.0" width="16.3" height="18.6" fill="#ce967f" />
<polygon points="264.1,497.6 268.1,505.2 260.1,505.2" fill="#f9eee2" />
<polygon points="264.1,499.4 266.6,504.3 261.7,504.3" fill="#56753f" />
<text x="264.1" y="497.0" font-size="6.5" fill="#4c2a22" text-anchor="middle" textLength="10.9" lengthAdjust="spacingAndGlyphs" >241</text>
<rect x="273.5" y="489.0" width="26.5" height="18.6" fill="#ce967f" />
<polygon points="285.5,497.6 289.5,505.2 281.5,505.2" fill="#f9eee2" />
<polygon points="285.5,499.4 287.9,504.3 283.1,504.3" fill="#9a3156" />
<text x="285.5" y="497.0" font-size="6.5" fill="#4c2a22" text-anchor="middle" textLength="10.9" lengthAdjust="spacingAndGlyphs" >240</text>
<rect x="230.8" y="507.6" width="69.2" height="50.4" fill="#f2dccf" />
<rect x="231.5" y="508.3" width="16.9" height="18.7" fill="#ce967f" />
<polygon points="239.9,509.1 243.9,516.6 235.9,516.6" fill="#f9eee2" />
<polygon points="239.9,510.9 242.4,515.7 237.5,515.7" fill="#56753f" />
<text x="239.9" y="524.2" font-size="6.5" fill="#4c2a22" text-anchor="middle" textLength="10.9" lengthAdjust="spacingAndGlyphs" >237</text>
<rect x="249.7" y="508.3" width="16.3" height="18.7" fill="#ce967f" />
<polygon points="257.9,509.1 261.9,516.6 253.9,516.6" fill="#f9eee2" />
<polygon points="257.9,510.9 260.3,515.7 255.4,515.7" fill="#7f8cb4" />
<text x="257.9" y="524.2" font-size="6.5" fill="#4c2a22" text-anchor="middle" textLength="10.9" lengthAdjust="spacingAndGlyphs" >238</text>
<rect x="267.2" y="508.3" width="32.8" height="18.7" fill="#ce967f" />
<polygon points="279.2,509.1 283.2,516.6 275.2,516.6" fill="#f9eee2" />
<polygon points="279.2,510.9 281.6,515.7 276.8,515.7" fill="#63496e" />
<text x="279.2" y="524.2" font-size="6.5" fill="#4c2a22" text-anchor="middle" textLength="10.9" lengthAdjust="spacingAndGlyphs" >239</text>
<rect x="231.5" y="527.4" width="5.1" height="11.0" fill="#ce967f" />
<rect x="237.6" y="528.4" width="62.4" height="8.8" fill="#c4c5b6" />
<rect x="231.5" y="538.4" width="16.9" height="18.9" fill="#ce967f" />
<polygon points="239.9,547.2 243.9,554.8 235.9,554.8" fill="#f9eee2" />
<polygon points="239.9,549.0 242.4,553.9 237.5,553.9" fill="#7f8cb4" />
<text x="239.9" y="546.4" font-size="6.5" fill="#4c2a22" text-anchor="middle" textLength="10.9" lengthAdjust="spacingAndGlyphs" >236</text>
<rect x="249.7" y="538.4" width="16.3" height="18.9" fill="#ce967f" />
<polygon points="257.9,547.2 261.9,554.8 253.9,554.8" fill="#f9eee2" />
<polygon points="257.9,549.0 260.3,553.9 255.4,553.9" fill="#56753f" />
<text x="257.9" y="546.4" font-size="6.5" fill="#4c2a22" text-anchor="middle" textLength="10.9" lengthAdjust="spacingAndGlyphs" >235</text>
<rect x="267.2" y="538.4" width="32.8" height="18.9" fill="#ce967f" />
<polygon points="279.2,547.2 283.2,554.8 275.2,554.8" fill="#f9eee2" />
<polygon points="279.2,549.0 281.6,553.9 276.8,553.9" fill="#9a3156" />
<text x="279.2" y="546.4" font-size="6.5" fill="#4c2a22" text-anchor="middle" textLength="10.9" lengthAdjust="spacingAndGlyphs" >234</text>
</g>
<rect x="111.5" y="328.0" width="75.5" height="3.0" fill="#d2d6cd" />
<rect x="111.5" y="331.0" width="69.5" height="6.7" fill="#e0e4dc" />
<rect x="111.5" y="337.7" width="69.5" height="3.8" fill="#d2d6cd" />
<rect x="111.5" y="341.5" width="117.5" height="3.0" fill="#eef1ea" />
<clipPath id="cp"><path d="M85.5,226.5 L230,226.5 L230,326.6 L85.5,326.6 Z"/></clipPath>
<g clip-path="url(#cp)">
<circle cx="88" cy="325" r="102.5" fill="#c3c6b4"/>
<circle cx="88" cy="325" r="99.5" fill="#a8c190"/>
<rect x="80.0" y="284.0" width="47.5" height="48.0" fill="#bfc1af" rx="7"/>
<rect x="85.5" y="319.0" width="104.5" height="8.0" fill="#bcbfab" opacity="0.55"/>
<rect x="96.8" y="294.7" width="21.2" height="20.1" fill="#a8c190" rx="1.5"/>
</g>
<path d="M158,222.2 L212,222.2 Q214,222.2 214,224 L214,297 C214,303 207,305 204,299 C198,285 195,270 187,257 C180,245 170,237 160.4,231 C156,228 155,222.2 158,222.2 Z" fill="#c6c8b9" />
<path d="M85.4,226.5 L107,226.5 L111.2,214 Q112.5,209.3 117,209.3 L222,209.3 Q230,209.3 230,217.5 L230,299 C229.5,308 222,319 210.5,319.6 C202,320 196,314.6 187.2,315 L187.2,326.6 L85.4,326.6 Z" fill="none" stroke="#181816" stroke-width="1.25" stroke-dasharray="2.4,0.6"/>
<path d="M67.7,344.8 L86.6,344.8 L86.6,352 L111,352 L111,344.8 L225,344.8 Q229,344.8 229,349 L229,505 C229,512 222,512 220,517.8 L56,517.8 L60.6,431 Z" fill="#a8c190" />
<path d="M67.7,344.8 L56.5,517.8 " fill="none" stroke="#f7f8f3" stroke-width="1.0" stroke-linejoin="round" stroke-linecap="round" />
<path d="M111,344.4 L225,344.4 Q229.4,344.4 229.4,349 L229.4,505" fill="none" stroke="#f7f8f3" stroke-width="1.0" stroke-linejoin="round" stroke-linecap="round" />
<rect x="73.3" y="360.5" width="44.4" height="68.5" fill="none" stroke="#e3f3c8" stroke-width="0.9"/>
<rect x="125.0" y="357.7" width="44.6" height="68.0" fill="none" stroke="#e3f3c8" stroke-width="0.9"/>
<rect x="176.5" y="354.7" width="44.6" height="67.8" fill="none" stroke="#e3f3c8" stroke-width="0.9"/>
<rect x="73.4" y="437.4" width="44.2" height="67.8" fill="none" stroke="#e3f3c8" stroke-width="0.9"/>
<rect x="125.0" y="434.2" width="44.7" height="68.4" fill="none" stroke="#e3f3c8" stroke-width="0.9"/>
<rect x="176.7" y="431.0" width="44.5" height="68.5" fill="none" stroke="#e3f3c8" stroke-width="0.9"/>
<path d="M187,520.3 L210.6,520.3 C214,521 216,524 217.3,527.4 C220,532 225,534 226.3,538.7 C227.5,543 227,547 225.2,549.9 C223,553.5 220,555.5 217.3,555.5 C213,555.5 211,554 208.4,552.1 C206,550 204,548.5 201.6,547.6 C198,546.4 195,546 192.6,545.4 C190,544.8 188,544 187,543.2 Z" fill="#a8c190" />
<rect x="59.4" y="518.5" width="2.2" height="59.7" fill="#fbfcf9" />
<rect x="61.3" y="520.3" width="125.7" height="45.1" fill="#f1f3ee" />
<rect x="61.3" y="565.0" width="10.7" height="11.8" fill="#f1f3ee" />
<rect x="71.4" y="521.8" width="104.4" height="23.2" fill="#c5c4b2" />
<rect x="71.4" y="540.0" width="9.0" height="35.0" fill="#c5c4b2" />
<path d="M71.4,570 L71.4,575 Q71.4,581.3 78,581.3 L108,581.3 L108,572.3 L80.4,572.3 Z" fill="#c5c4b2" />
<rect x="166.8" y="540.0" width="9.0" height="26.0" fill="#c5c4b2" />
<rect x="80.4" y="538.7" width="86.4" height="27.2" fill="#f1f3ee" />
<rect x="80.4" y="565.0" width="29.6" height="7.3" fill="#f1f3ee" />
<rect x="88.3" y="546.5" width="69.5" height="19.4" fill="#dde2da" />
<rect x="88.3" y="565.0" width="21.7" height="7.3" fill="#dde2da" />
<path d="M75.22,521.8V528.8M77.67,521.8V528.8M80.12,521.8V528.8M82.58,521.8V528.8M85.03,521.8V528.8M87.48,521.8V528.8M89.93,521.8V528.8M92.38,521.8V528.8M94.83,521.8V528.8M97.28,521.8V528.8M99.73,521.8V528.8M102.18,521.8V528.8M104.63,521.8V528.8M107.08,521.8V528.8M109.53,521.8V528.8M111.98,521.8V528.8M114.43,521.8V528.8M116.88,521.8V528.8M119.33,521.8V528.8M121.78,521.8V528.8M124.23,521.8V528.8M126.68,521.8V528.8M129.13,521.8V528.8M131.58,521.8V528.8M134.03,521.8V528.8M136.48,521.8V528.8M138.93,521.8V528.8M141.38,521.8V528.8M143.82,521.8V528.8M146.27,521.8V528.8M148.72,521.8V528.8M151.17,521.8V528.8M153.62,521.8V528.8M156.07,521.8V528.8M158.52,521.8V528.8M160.97,521.8V528.8M163.42,521.8V528.8M165.87,521.8V528.8M168.32,521.8V528.8M170.77,521.8V528.8M173.22,521.8V528.8" fill="none" stroke="#f1f3ee" stroke-width="1.2"/>
<path d="M85.22,538.7V546.6M87.67,538.7V546.6M90.12,538.7V546.6M92.58,538.7V546.6M95.03,538.7V546.6M97.48,538.7V546.6M99.93,538.7V546.6M102.38,538.7V546.6M104.83,538.7V546.6M107.28,538.7V546.6M109.73,538.7V546.6M112.18,538.7V546.6M114.63,538.7V546.6M117.08,538.7V546.6M119.53,538.7V546.6M121.98,538.7V546.6M124.43,538.7V546.6M126.88,538.7V546.6M129.33,538.7V546.6M131.78,538.7V546.6M134.23,538.7V546.6M136.68,538.7V546.6M139.12,538.7V546.6M141.57,538.7V546.6M144.02,538.7V546.6M146.47,538.7V546.6M148.92,538.7V546.6M151.37,538.7V546.6M153.82,538.7V546.6M156.27,538.7V546.6M158.72,538.7V546.6M161.17,538.7V546.6" fill="none" stroke="#c5c4b2" stroke-width="1.15"/>
<path d="M61.3,532.02H70.6M61.3,534.48H70.6M61.3,536.93H70.6M61.3,539.38H70.6M61.3,541.83H70.6M61.3,544.28H70.6M61.3,546.73H70.6M61.3,549.18H70.6M61.3,551.63H70.6M61.3,554.08H70.6M61.3,556.53H70.6M61.3,558.98H70.6M61.3,561.43H70.6M61.3,563.88H70.6M61.3,566.33H70.6M61.3,568.78H70.6M61.3,571.23H70.6" fill="none" stroke="#c5c4b2" stroke-width="1.15"/>
<path d="M178.0,532.02H187.0M178.0,534.48H187.0M178.0,536.93H187.0M178.0,539.38H187.0M178.0,541.83H187.0M178.0,544.28H187.0M178.0,546.73H187.0M178.0,549.18H187.0M178.0,551.63H187.0M178.0,554.08H187.0M178.0,556.53H187.0M178.0,558.98H187.0M178.0,561.43H187.0M178.0,563.88H187.0" fill="none" stroke="#c5c4b2" stroke-width="1.15"/>
<path d="M80.4,548.83H88.3M80.4,551.28H88.3M80.4,553.73H88.3M80.4,556.18H88.3M80.4,558.63H88.3M80.4,561.08H88.3M80.4,563.53H88.3" fill="none" stroke="#c5c4b2" stroke-width="1.15"/>
<path d="M157.8,548.83H165.8M157.8,551.28H165.8M157.8,553.73H165.8M157.8,556.18H165.8M157.8,558.63H165.8M157.8,561.08H165.8M157.8,563.53H165.8" fill="none" stroke="#c5c4b2" stroke-width="1.15"/>
<path d="M36.5,48.6 L301,48.6 Q305.6,48.6 305.6,53.2 L305.6,110.6 Q305.6,115.4 301,115.4 L150,115.4 C140,115.4 137.5,110.5 133,106.5 C127.5,101 120,97.6 113.3,97.6 A21.4,21.4 0 0 0 113.3,140.4 L301,140.4 Q305.6,140.4 305.6,145 L305.6,178 C305.2,195 299,212 297.6,228 L297.4,505 C297.4,520 290.6,525 290.4,538 L290.4,559.5 Q290.4,566.3 283.5,566.3 L127,565.8" fill="none" stroke="#43433d" stroke-width="0.9"/>
<path d="M140,566.3 L127,565.8 C110,565.8 96.2,578 96.2,595 L96.2,604 L122.6,604 L122.6,600 Q123.2,591.4 131,591.4 L140,591.4 Z" fill="#c5c4b2" />
<path d="M129,565.5 L127,565.4 C109.8,565.4 95.8,577.8 95.8,595" fill="none" stroke="#43433d" stroke-width="0.8"/>
<clipPath id="ce"><path d="M335,48.6 L383,48.6 Q387.4,48.6 387.4,53 L387.4,120 C387.4,135 382.4,140 383,150 C384,164 395,175 408,177 C420,178.6 427,174.8 434,174.8 L742,174.2 C755,174.2 762,178.5 773,178.5 C788,178.5 799,166 799.8,153 C800.2,141 796.5,136 796.5,126 L796.5,53 Q796.5,48.6 801,48.6 L853,48.6 L853,568.4 L821,568.4 Q815.3,568.4 815.3,562.5 L815.3,350 C816,335 819.5,322 819,311 C818.5,298 810,287.2 800,285.6 C790,284 782,286.4 770,288.6 L760,289 L478,288.5 C465,288.2 460,284 452,284.4 C440,285 428,295 425.8,308 C424.5,320 427,330 428.6,340 L428.8,560 Q428.8,566.8 422,566.8 L329,566.8 Q322.5,566.8 322.5,560 L322.5,248 L330,246 L335,200.3 L328.4,197.2 L330.6,173.6 L330.6,53 Q330.6,48.6 335,48.6 Z"/></clipPath>
<path d="M335,48.6 L383,48.6 Q387.4,48.6 387.4,53 L387.4,120 C387.4,135 382.4,140 383,150 C384,164 395,175 408,177 C420,178.6 427,174.8 434,174.8 L742,174.2 C755,174.2 762,178.5 773,178.5 C788,178.5 799,166 799.8,153 C800.2,141 796.5,136 796.5,126 L796.5,53 Q796.5,48.6 801,48.6 L853,48.6 L853,568.4 L821,568.4 Q815.3,568.4 815.3,562.5 L815.3,350 C816,335 819.5,322 819,311 C818.5,298 810,287.2 800,285.6 C790,284 782,286.4 770,288.6 L760,289 L478,288.5 C465,288.2 460,284 452,284.4 C440,285 428,295 425.8,308 C424.5,320 427,330 428.6,340 L428.8,560 Q428.8,566.8 422,566.8 L329,566.8 Q322.5,566.8 322.5,560 L322.5,248 L330,246 L335,200.3 L328.4,197.2 L330.6,173.6 L330.6,53 Q330.6,48.6 335,48.6 Z" fill="#d9ded5" />
<g clip-path="url(#ce)">
<rect x="330.0" y="48.0" width="60.0" height="152.0" fill="#e1e5dd" />
<polygon points="336.2,52.3 388.0,52.3 388.0,170.4 379.0,181.4 336.2,181.4" fill="#909197" />
<path d="M336.4,78.8L388.0,78.8M336.4,103.3L388.0,103.3M336.4,128.5L388.0,128.5M336.4,153.6L388.0,153.6M335.8,52.0L335.8,181.6M336.0,52.0L388.0,52.0" fill="none" stroke="#f4f5f2" stroke-width="1.2"/>
<polygon points="796.0,49.0 850.0,49.0 850.0,200.4 823.4,200.4 794.6,171.7" fill="#909197" />
<path d="M796.0,78.4L850.0,78.4M796.0,103.2L850.0,103.2M796.0,128.2L850.0,128.2M796.0,153.4L850.0,153.4" fill="none" stroke="#f4f5f2" stroke-width="1.2"/>
<polygon points="408.3,170.0 781.6,170.0 781.6,227.7 408.3,227.7" fill="#909197" />
<path d="M432.6,170.0L432.6,227.7M457.7,170.0L457.7,227.7M482.7,170.0L482.7,227.7M507.8,170.0L507.8,227.7M532.8,170.0L532.8,227.7M557.9,170.0L557.9,227.7M582.9,170.0L582.9,227.7M608.0,170.0L608.0,227.7M633.0,170.0L633.0,227.7M658.1,170.0L658.1,227.7M683.1,170.0L683.1,227.7M708.2,170.0L708.2,227.7M733.2,170.0L733.2,227.7M758.2,170.0L758.2,227.7M408.3,227.9L781.6,227.9M408.2,170.0L408.2,228.0M781.8,170.0L781.8,228.0" fill="none" stroke="#f4f5f2" stroke-width="1.2"/>
<polygon points="451.0,254.0 794.7,254.0 794.7,292.0 451.0,292.0" fill="#909197" />
<path d="M469.5,254.0L469.5,292.0M488.7,254.0L488.7,292.0M507.8,254.0L507.8,292.0M527.0,254.0L527.0,292.0M546.2,254.0L546.2,292.0M565.4,254.0L565.4,292.0M584.5,254.0L584.5,292.0M603.7,254.0L603.7,292.0M622.9,254.0L622.9,292.0M642.0,254.0L642.0,292.0M661.2,254.0L661.2,292.0M680.4,254.0L680.4,292.0M699.5,254.0L699.5,292.0M718.7,254.0L718.7,292.0M737.9,254.0L737.9,292.0M757.0,254.0L757.0,292.0M776.2,254.0L776.2,292.0M450.6,253.8L795.0,253.8M450.8,254.0L450.8,292.0M794.8,254.0L794.8,292.0" fill="none" stroke="#f4f5f2" stroke-width="1.2"/>
<clipPath id="clg"><polygon points="398.2,268.6 409.7,268.6 436,295 436,556.8 398.2,556.8 398.2,344.2 395.3,327 395.3,305 "/></clipPath>
<g clip-path="url(#clg)">
<polygon points="390.0,260.0 440.0,260.0 440.0,560.0 390.0,560.0" fill="#909197" />
<path d="M390.0,305.4L440.0,305.4M390.0,327.0L440.0,327.0M390.0,346.4L440.0,346.4M390.0,365.7L440.0,365.7M390.0,385.0L440.0,385.0M390.0,404.2L440.0,404.2M390.0,423.4L440.0,423.4M390.0,442.6L440.0,442.6M390.0,461.8L440.0,461.8M390.0,481.0L440.0,481.0M390.0,500.2L440.0,500.2M390.0,519.4L440.0,519.4M390.0,538.6L440.0,538.6" fill="none" stroke="#f4f5f2" stroke-width="1.2"/>
</g>
<path d="M409.7,268.4 L398,268.4 L395.1,305 L395.1,327 L398,344.2 L398,557" fill="none" stroke="#f4f5f2" stroke-width="1"/>
<polygon points="814.0,292.2 852.0,264.6 854.0,264.6 854.0,559.3 814.0,559.3" fill="#909197" />
<path d="M814.0,310.6L854.0,310.6M814.0,329.7L854.0,329.7M814.0,348.9L854.0,348.9M814.0,368.0L854.0,368.0M814.0,387.2L854.0,387.2M814.0,406.3L854.0,406.3M814.0,425.4L854.0,425.4M814.0,444.6L854.0,444.6M814.0,463.7L854.0,463.7M814.0,482.9L854.0,482.9M814.0,502.0L854.0,502.0M814.0,521.1L854.0,521.1M814.0,540.3L854.0,540.3" fill="none" stroke="#f4f5f2" stroke-width="1.2"/>
<rect x="814.0" y="559.6" width="40.0" height="8.4" fill="#e2e5df" />
<rect x="323.0" y="273.9" width="52.3" height="9.2" fill="#c4c5b6" />
<rect x="323.0" y="323.6" width="52.3" height="9.2" fill="#c4c5b6" />
<rect x="323.0" y="373.5" width="52.3" height="9.2" fill="#c4c5b6" />
<rect x="323.0" y="423.3" width="52.3" height="9.2" fill="#c4c5b6" />
<rect x="323.0" y="473.2" width="52.3" height="9.2" fill="#c4c5b6" />
<rect x="323.0" y="523.0" width="52.3" height="9.2" fill="#c4c5b6" />
<rect x="322.0" y="252.5" width="68.0" height="301.0" fill="#f2dccf" />
<rect x="323.0" y="273.9" width="52.3" height="9.0" fill="#c4c5b6" />
<rect x="375.3" y="271.9" width="13.4" height="13.0" fill="#ce967f" />
<rect x="375.3" y="277.9" width="13.7" height="1.2" fill="#f2dccf" />
<rect x="374.6" y="273.3" width="1.2" height="10.2" fill="#f2dccf" />
<rect x="323.0" y="323.6" width="52.3" height="9.0" fill="#c4c5b6" />
<rect x="375.3" y="321.6" width="13.4" height="13.0" fill="#ce967f" />
<rect x="375.3" y="327.6" width="13.7" height="1.2" fill="#f2dccf" />
<rect x="374.6" y="323.0" width="1.2" height="10.2" fill="#f2dccf" />
<rect x="323.0" y="373.5" width="52.3" height="9.0" fill="#c4c5b6" />
<rect x="375.3" y="371.5" width="13.4" height="13.0" fill="#ce967f" />
<rect x="375.3" y="377.5" width="13.7" height="1.2" fill="#f2dccf" />
<rect x="374.6" y="372.9" width="1.2" height="10.2" fill="#f2dccf" />
<rect x="323.0" y="423.3" width="52.3" height="9.0" fill="#c4c5b6" />
<rect x="375.3" y="421.3" width="13.4" height="13.0" fill="#ce967f" />
<rect x="375.3" y="427.3" width="13.7" height="1.2" fill="#f2dccf" />
<rect x="374.6" y="422.7" width="1.2" height="10.2" fill="#f2dccf" />
<rect x="323.0" y="473.2" width="52.3" height="9.0" fill="#c4c5b6" />
<rect x="375.3" y="471.2" width="13.4" height="13.0" fill="#ce967f" />
<rect x="375.3" y="477.2" width="13.7" height="1.2" fill="#f2dccf" />
<rect x="374.6" y="472.6" width="1.2" height="10.2" fill="#f2dccf" />
<rect x="323.0" y="523.0" width="52.3" height="9.0" fill="#c4c5b6" />
<rect x="375.3" y="521.0" width="13.4" height="13.0" fill="#ce967f" />
<rect x="375.3" y="527.0" width="13.7" height="1.2" fill="#f2dccf" />
<rect x="374.6" y="522.4" width="1.2" height="10.2" fill="#f2dccf" />
<rect x="323.0" y="253.7" width="23.0" height="19.2" fill="#ce967f" />
<polygon points="334.5,254.7 338.5,262.3 330.5,262.3" fill="#f9eee2" />
<polygon points="334.5,256.5 336.9,261.4 332.1,261.4" fill="#9a3156" />
<text x="334.5" y="270.1" font-size="6.5" fill="#4c2a22" text-anchor="middle" textLength="10.9" lengthAdjust="spacingAndGlyphs" >233</text>
<rect x="347.2" y="253.7" width="16.8" height="19.2" fill="#ce967f" />
<polygon points="355.6,254.7 359.6,262.3 351.6,262.3" fill="#f9eee2" />
<polygon points="355.6,256.5 358.1,261.4 353.2,261.4" fill="#56753f" />
<text x="355.6" y="270.1" font-size="6.5" fill="#4c2a22" text-anchor="middle" textLength="10.9" lengthAdjust="spacingAndGlyphs" >232</text>
<rect x="365.3" y="253.7" width="23.4" height="19.2" fill="#ce967f" />
<polygon points="377.0,254.7 381.0,262.3 373.0,262.3" fill="#f9eee2" />
<polygon points="377.0,256.5 379.4,261.4 374.6,261.4" fill="#7f8cb4" />
<text x="377.0" y="270.1" font-size="6.5" fill="#4c2a22" text-anchor="middle" textLength="10.9" lengthAdjust="spacingAndGlyphs" >231</text>
<rect x="323.0" y="284.0" width="23.0" height="19.0" fill="#ce967f" />
<polygon points="334.5,292.9 338.5,300.4 330.5,300.4" fill="#f9eee2" />
<polygon points="334.5,294.7 336.9,299.6 332.1,299.6" fill="#63496e" />
<text x="334.5" y="292.0" font-size="6.5" fill="#4c2a22" text-anchor="middle" textLength="10.9" lengthAdjust="spacingAndGlyphs" >228</text>
<rect x="347.2" y="284.0" width="16.8" height="19.0" fill="#ce967f" />
<polygon points="355.6,292.9 359.6,300.4 351.6,300.4" fill="#f9eee2" />
<polygon points="355.6,294.7 358.1,299.6 353.2,299.6" fill="#7f8cb4" />
<text x="355.6" y="292.0" font-size="6.5" fill="#4c2a22" text-anchor="middle" textLength="10.9" lengthAdjust="spacingAndGlyphs" >229</text>
<rect x="365.3" y="284.0" width="23.4" height="19.0" fill="#ce967f" />
<polygon points="377.0,292.9 381.0,300.4 373.0,300.4" fill="#f9eee2" />
<polygon points="377.0,294.7 379.4,299.6 374.6,299.6" fill="#56753f" />
<text x="377.0" y="292.0" font-size="6.5" fill="#4c2a22" text-anchor="middle" textLength="10.9" lengthAdjust="spacingAndGlyphs" >230</text>
<rect x="323.0" y="304.0" width="23.0" height="18.5" fill="#ce967f" />
<polygon points="334.5,304.7 338.5,312.2 330.5,312.2" fill="#f9eee2" />
<polygon points="334.5,306.5 336.9,311.3 332.1,311.3" fill="#9a3156" />
<text x="334.5" y="319.7" font-size="6.5" fill="#4c2a22" text-anchor="middle" textLength="10.9" lengthAdjust="spacingAndGlyphs" >227</text>
<rect x="347.2" y="304.0" width="16.8" height="18.5" fill="#ce967f" />
<polygon points="355.6,304.7 359.6,312.2 351.6,312.2" fill="#f9eee2" />
<polygon points="355.6,306.5 358.1,311.3 353.2,311.3" fill="#56753f" />
<text x="355.6" y="319.7" font-size="6.5" fill="#4c2a22" text-anchor="middle" textLength="10.9" lengthAdjust="spacingAndGlyphs" >226</text>
<rect x="365.3" y="304.0" width="23.4" height="18.5" fill="#ce967f" />
<polygon points="377.0,304.7 381.0,312.2 373.0,312.2" fill="#f9eee2" />
<polygon points="377.0,306.5 379.4,311.3 374.6,311.3" fill="#7f8cb4" />
<text x="377.0" y="319.7" font-size="6.5" fill="#4c2a22" text-anchor="middle" textLength="10.9" lengthAdjust="spacingAndGlyphs" >225</text>
<rect x="323.0" y="333.9" width="23.0" height="19.0" fill="#ce967f" />
<polygon points="334.5,342.8 338.5,350.3 330.5,350.3" fill="#f9eee2" />
<polygon points="334.5,344.6 336.9,349.4 332.1,349.4" fill="#63496e" />
<text x="334.5" y="341.9" font-size="6.5" fill="#4c2a22" text-anchor="middle" textLength="10.9" lengthAdjust="spacingAndGlyphs" >222</text>
<rect x="347.2" y="333.9" width="16.8" height="19.0" fill="#ce967f" />
<polygon points="355.6,342.8 359.6,350.3 351.6,350.3" fill="#f9eee2" />
<polygon points="355.6,344.6 358.1,349.4 353.2,349.4" fill="#7f8cb4" />
<text x="355.6" y="341.9" font-size="6.5" fill="#4c2a22" text-anchor="middle" textLength="10.9" lengthAdjust="spacingAndGlyphs" >223</text>
<rect x="365.3" y="333.9" width="23.4" height="19.0" fill="#ce967f" />
<polygon points="377.0,342.8 381.0,350.3 373.0,350.3" fill="#f9eee2" />
<polygon points="377.0,344.6 379.4,349.4 374.6,349.4" fill="#56753f" />
<text x="377.0" y="341.9" font-size="6.5" fill="#4c2a22" text-anchor="middle" textLength="10.9" lengthAdjust="spacingAndGlyphs" >224</text>
<rect x="323.0" y="353.9" width="23.0" height="18.5" fill="#ce967f" />
<polygon points="334.5,354.5 338.5,362.1 330.5,362.1" fill="#f9eee2" />
<polygon points="334.5,356.3 336.9,361.2 332.1,361.2" fill="#9a3156" />
<text x="334.5" y="369.6" font-size="6.5" fill="#4c2a22" text-anchor="middle" textLength="10.9" lengthAdjust="spacingAndGlyphs" >221</text>
<rect x="347.2" y="353.9" width="16.8" height="18.5" fill="#ce967f" />
<polygon points="355.6,354.5 359.6,362.1 351.6,362.1" fill="#f9eee2" />
<polygon points="355.6,356.3 358.1,361.2 353.2,361.2" fill="#56753f" />
<text x="355.6" y="369.6" font-size="6.5" fill="#4c2a22" text-anchor="middle" textLength="10.9" lengthAdjust="spacingAndGlyphs" >220</text>
<rect x="365.3" y="353.9" width="23.4" height="18.5" fill="#ce967f" />
<polygon points="377.0,354.5 381.0,362.1 373.0,362.1" fill="#f9eee2" />
<polygon points="377.0,356.3 379.4,361.2 374.6,361.2" fill="#7f8cb4" />
<text x="377.0" y="369.6" font-size="6.5" fill="#4c2a22" text-anchor="middle" textLength="10.9" lengthAdjust="spacingAndGlyphs" >219</text>
<rect x="323.0" y="383.7" width="23.0" height="19.0" fill="#ce967f" />
<polygon points="334.5,392.6 338.5,400.1 330.5,400.1" fill="#f9eee2" />
<polygon points="334.5,394.4 336.9,399.2 332.1,399.2" fill="#63496e" />
<text x="334.5" y="391.7" font-size="6.5" fill="#4c2a22" text-anchor="middle" textLength="10.9" lengthAdjust="spacingAndGlyphs" >216</text>
<rect x="347.2" y="383.7" width="16.8" height="19.0" fill="#ce967f" />
<polygon points="355.6,392.6 359.6,400.1 351.6,400.1" fill="#f9eee2" />
<polygon points="355.6,394.4 358.1,399.2 353.2,399.2" fill="#7f8cb4" />
<text x="355.6" y="391.7" font-size="6.5" fill="#4c2a22" text-anchor="middle" textLength="10.9" lengthAdjust="spacingAndGlyphs" >217</text>
<rect x="365.3" y="383.7" width="23.4" height="19.0" fill="#ce967f" />
<polygon points="377.0,392.6 381.0,400.1 373.0,400.1" fill="#f9eee2" />
<polygon points="377.0,394.4 379.4,399.2 374.6,399.2" fill="#56753f" />
<text x="377.0" y="391.7" font-size="6.5" fill="#4c2a22" text-anchor="middle" textLength="10.9" lengthAdjust="spacingAndGlyphs" >218</text>
<rect x="323.0" y="403.7" width="23.0" height="18.5" fill="#ce967f" />
<polygon points="334.5,404.4 338.5,411.9 330.5,411.9" fill="#f9eee2" />
<polygon points="334.5,406.2 336.9,411.0 332.1,411.0" fill="#9a3156" />
<text x="334.5" y="419.4" font-size="6.5" fill="#4c2a22" text-anchor="middle" textLength="10.9" lengthAdjust="spacingAndGlyphs" >215</text>
<rect x="347.2" y="403.7" width="16.8" height="18.5" fill="#ce967f" />
<polygon points="355.6,404.4 359.6,411.9 351.6,411.9" fill="#f9eee2" />
<polygon points="355.6,406.2 358.1,411.0 353.2,411.0" fill="#56753f" />
<text x="355.6" y="419.4" font-size="6.5" fill="#4c2a22" text-anchor="middle" textLength="10.9" lengthAdjust="spacingAndGlyphs" >214</text>
<rect x="365.3" y="403.7" width="23.4" height="18.5" fill="#ce967f" />
<polygon points="377.0,404.4 381.0,411.9 373.0,411.9" fill="#f9eee2" />
<polygon points="377.0,406.2 379.4,411.0 374.6,411.0" fill="#7f8cb4" />
<text x="377.0" y="419.4" font-size="6.5" fill="#4c2a22" text-anchor="middle" textLength="10.9" lengthAdjust="spacingAndGlyphs" >213</text>
<rect x="323.0" y="433.6" width="23.0" height="19.0" fill="#ce967f" />
<polygon points="334.5,442.5 338.5,450.0 330.5,450.0" fill="#f9eee2" />
<polygon points="334.5,444.3 336.9,449.1 332.1,449.1" fill="#63496e" />
<text x="334.5" y="441.6" font-size="6.5" fill="#4c2a22" text-anchor="middle" textLength="10.9" lengthAdjust="spacingAndGlyphs" >210</text>
<rect x="347.2" y="433.6" width="16.8" height="19.0" fill="#ce967f" />
<polygon points="355.6,442.5 359.6,450.0 351.6,450.0" fill="#f9eee2" />
<polygon points="355.6,444.3 358.1,449.1 353.2,449.1" fill="#7f8cb4" />
<text x="355.6" y="441.6" font-size="6.5" fill="#4c2a22" text-anchor="middle" textLength="10.9" lengthAdjust="spacingAndGlyphs" >211</text>
<rect x="365.3" y="433.6" width="23.4" height="19.0" fill="#ce967f" />
<polygon points="377.0,442.5 381.0,450.0 373.0,450.0" fill="#f9eee2" />
<polygon points="377.0,444.3 379.4,449.1 374.6,449.1" fill="#56753f" />
<text x="377.0" y="441.6" font-size="6.5" fill="#4c2a22" text-anchor="middle" textLength="10.9" lengthAdjust="spacingAndGlyphs" >212</text>
<rect x="323.0" y="453.6" width="23.0" height="18.5" fill="#ce967f" />
<polygon points="334.5,454.2 338.5,461.8 330.5,461.8" fill="#f9eee2" />
<polygon points="334.5,456.0 336.9,460.9 332.1,460.9" fill="#9a3156" />
<text x="334.5" y="469.2" font-size="6.5" fill="#4c2a22" text-anchor="middle" textLength="10.9" lengthAdjust="spacingAndGlyphs" >209</text>
<rect x="347.2" y="453.6" width="16.8" height="18.5" fill="#ce967f" />
<polygon points="355.6,454.2 359.6,461.8 351.6,461.8" fill="#f9eee2" />
<polygon points="355.6,456.0 358.1,460.9 353.2,460.9" fill="#56753f" />
<text x="355.6" y="469.2" font-size="6.5" fill="#4c2a22" text-anchor="middle" textLength="10.9" lengthAdjust="spacingAndGlyphs" >208</text>
<rect x="365.3" y="453.6" width="23.4" height="18.5" fill="#ce967f" />
<polygon points="377.0,454.2 381.0,461.8 373.0,461.8" fill="#f9eee2" />
<polygon points="377.0,456.0 379.4,460.9 374.6,460.9" fill="#7f8cb4" />
<text x="377.0" y="469.2" font-size="6.5" fill="#4c2a22" text-anchor="middle" textLength="10.9" lengthAdjust="spacingAndGlyphs" >207</text>
<rect x="323.0" y="483.4" width="23.0" height="19.0" fill="#ce967f" />
<polygon points="334.5,492.3 338.5,499.8 330.5,499.8" fill="#f9eee2" />
<polygon points="334.5,494.1 336.9,498.9 332.1,498.9" fill="#63496e" />
<text x="334.5" y="491.4" font-size="6.5" fill="#4c2a22" text-anchor="middle" textLength="10.9" lengthAdjust="spacingAndGlyphs" >204</text>
<rect x="347.2" y="483.4" width="16.8" height="19.0" fill="#ce967f" />
<polygon points="355.6,492.3 359.6,499.8 351.6,499.8" fill="#f9eee2" />
<polygon points="355.6,494.1 358.1,498.9 353.2,498.9" fill="#7f8cb4" />
<text x="355.6" y="491.4" font-size="6.5" fill="#4c2a22" text-anchor="middle" textLength="10.9" lengthAdjust="spacingAndGlyphs" >205</text>
<rect x="365.3" y="483.4" width="23.4" height="19.0" fill="#ce967f" />
<polygon points="377.0,492.3 381.0,499.8 373.0,499.8" fill="#f9eee2" />
<polygon points="377.0,494.1 379.4,498.9 374.6,498.9" fill="#56753f" />
<text x="377.0" y="491.4" font-size="6.5" fill="#4c2a22" text-anchor="middle" textLength="10.9" lengthAdjust="spacingAndGlyphs" >206</text>
<rect x="323.0" y="503.4" width="23.0" height="18.5" fill="#e8942c" />
<polygon points="334.5,504.1 338.5,511.6 330.5,511.6" fill="#f9eee2" />
<polygon points="334.5,505.9 336.9,510.7 332.1,510.7" fill="#9a3156" />
<text x="334.5" y="519.1" font-size="6.5" fill="#4c2a22" text-anchor="middle" textLength="10.9" lengthAdjust="spacingAndGlyphs" >203</text>
<rect x="347.2" y="503.4" width="16.8" height="18.5" fill="#e8942c" />
<polygon points="355.6,504.1 359.6,511.6 351.6,511.6" fill="#f9eee2" />
<polygon points="355.6,505.9 358.1,510.7 353.2,510.7" fill="#56753f" />
<text x="355.6" y="519.1" font-size="6.5" fill="#4c2a22" text-anchor="middle" textLength="10.9" lengthAdjust="spacingAndGlyphs" >202</text>
<rect x="365.3" y="503.4" width="23.4" height="18.5" fill="#ce967f" />
<polygon points="377.0,504.1 381.0,511.6 373.0,511.6" fill="#f9eee2" />
<polygon points="377.0,505.9 379.4,510.7 374.6,510.7" fill="#7f8cb4" />
<text x="377.0" y="519.1" font-size="6.5" fill="#4c2a22" text-anchor="middle" textLength="10.9" lengthAdjust="spacingAndGlyphs" >201</text>
<rect x="322.0" y="531.8" width="69.0" height="21.7" fill="#f7eab4" />
<rect x="375.3" y="526.6" width="15.7" height="7.4" fill="#f7eab4" />
<rect x="375.3" y="527.0" width="14.7" height="7.0" fill="#f5e3a0" />
<rect x="323.0" y="523.3" width="52.3" height="8.3" fill="#c4c5b6" />
<rect x="323.0" y="532.9" width="23.0" height="19.6" fill="#f5e3a0" />
<text x="334.5" y="541.1" font-size="6.4" fill="#4c2a22" text-anchor="middle" textLength="10.8" lengthAdjust="spacingAndGlyphs" >198</text>
<polygon points="334.5,545.3 336.2,548.6 332.8,548.6" fill="#63496e" />
<rect x="347.2" y="532.9" width="16.8" height="19.6" fill="#f5e3a0" />
<text x="355.6" y="541.1" font-size="6.4" fill="#4c2a22" text-anchor="middle" textLength="10.8" lengthAdjust="spacingAndGlyphs" >199</text>
<polygon points="355.6,545.3 357.3,548.6 353.9,548.6" fill="#7f8cb4" />
<rect x="365.3" y="532.9" width="24.7" height="19.6" fill="#f5e3a0" />
<text x="377.6" y="541.1" font-size="6.4" fill="#4c2a22" text-anchor="middle" textLength="10.8" lengthAdjust="spacingAndGlyphs" >200</text>
<polygon points="377.6,545.3 379.3,548.6 375.9,548.6" fill="#56753f" />
<polygon points="372.7,199.5 388.4,199.5 403.4,184.0 403.4,234.0 398.0,241.2 372.7,241.2" fill="#a8c190" />
<path d="M344.5,211 A8.5,8.5 0 0 1 361.5,211 L358,214 L346,214 Z" fill="#a8c190" />
<path d="M330,198 L388,198 L404,182" fill="none" stroke="#f7f8f2" stroke-width="1.1" stroke-linejoin="round" stroke-linecap="round"/>
<path d="M330,242.6 L400,242.6" fill="none" stroke="#f7f8f2" stroke-width="1.1" stroke-linejoin="round" stroke-linecap="round"/>
<path d="M371.8,198 L371.8,242.6" fill="none" stroke="#f7f8f2" stroke-width="1.0" stroke-linejoin="round" stroke-linecap="round"/>
<path d="M331,224 L340,224" fill="none" stroke="#f7f8f2" stroke-width="0.8" stroke-linejoin="round" stroke-linecap="round"/>
<path d="M353,214.5 C356,212 360,212.5 362,213" fill="none" stroke="#f7f8f2" stroke-width="0.8" stroke-linejoin="round" stroke-linecap="round"/>
<circle cx="348.4" cy="223.9" r="8.9" fill="#7f786f" stroke="#fafaf5" stroke-width="1.3"/>
<polygon points="390.0,242.6 405.7,242.6 445.0,284.4 432.4,292.3 410.4,268.2 390.0,268.2" fill="#e0e4dc" />
<path d="M400,242.6 L405.7,242.6 L446,285" fill="none" stroke="#f7f8f2" stroke-width="1.1" stroke-linejoin="round" stroke-linecap="round"/>
<path d="M390,268.2 L410.4,268.2 L432.4,292.3" fill="none" stroke="#f7f8f2" stroke-width="1.1" stroke-linejoin="round" stroke-linecap="round"/>
<path d="M415.9,250.6 L426.9,242.8 C433,246 439,250 440.3,254.6 C441,260 440.5,264 441.9,268.7 C444,273 448,275 448.9,278.1 L448.9,283.6 L445,284.4 Z" fill="#a8c190" />
<path d="M437.5,237.5 C436,240 437,243.4 440,244.4 C448,245.4 456,241.8 466,240.6 C478,240 488,242.6 499,243.2" fill="none" stroke="#c0c2b3" stroke-width="4.2" stroke-linecap="round" stroke-linejoin="round"/>
<path d="M502,236.6 C512,235 524,235.6 536,234.4 C548,233.2 556,232.6 566,232.6 C580,232.6 600,233.4 618,234 C640,235.4 660,233 680,233.2 C692,233.6 700,235 707,237.6" fill="none" stroke="#c0c2b3" stroke-width="3.6" stroke-linecap="round" stroke-linejoin="round"/>
<path d="M711,243.4 C724,241.4 736,241.6 748,241.6 C760,241.6 772,240.6 784,241.2 C790,241.8 796,244 799.5,247.5" fill="none" stroke="#c0c2b3" stroke-width="3.6" stroke-linecap="round" stroke-linejoin="round"/>
<path d="M416,250.8 C420,243 426,238 432,236 C438,233.8 444,233.2 449.4,233.5 C458,234 466,236 474,237.2 C482,238.6 490,240.4 498.8,240.4 C507,240.4 516,240.2 523.5,239.7 C532,239 540,236.4 548,236 C556,235.8 564,237.2 572.8,237.2 C581,237.2 590,236.2 597.5,236 C610,235.6 622,239.6 634.7,239.7 C643,239.6 651,237.2 659.4,236.7 C668,236.2 676,235.4 684,236 C689,236.6 692,238.6 696.4,239.7 C700,240.8 704,241.4 708.8,241 C713,240.4 716,237.8 721,237.2 C729,236.6 738,238.4 745.8,238.5 C754,238.6 762,237.2 770.5,237.2 C779,237.2 787,237.6 795,238.5 C804,239.6 812,241 821,241.6" fill="none" stroke="#f6f8ec" stroke-width="1.9" stroke-linejoin="round" stroke-linecap="round"/>
<path d="M790.2,184.2 L810,199 C812,202 813,206 813.8,209.3 C816,215 820,220 822,224 L821.2,241.7 C824,247 830,252 833.7,256.4 C832,260 831,264 830,268 L807.8,283.4 C806,279 804.5,275 804,270.8 C804.5,262 804.8,252 804.2,243.2 C802,238 798,233 795.4,228.4 C792,222 790.5,213 789.5,206.3 Z" fill="#a8c190" />
<path d="M787.6,176.5 L811.6,199 C815,205 816,210 818.5,215 C821,219.5 824,222.5 827,225" fill="none" stroke="#f7f8f2" stroke-width="1.5" stroke-linejoin="round" stroke-linecap="round"/>
<path d="M834,254 C833,259 831.5,264 829.6,268 L808.6,284" fill="none" stroke="#f7f8f2" stroke-width="1.4" stroke-linejoin="round" stroke-linecap="round"/>
<path d="M842.4,224.2 A15.6,15.6 0 1 0 842.4,253.2 Z" fill="#7f786f" stroke="#fafaf5" stroke-width="1.4" stroke-linejoin="round"/>
<path d="M331.9,196 L331.9,54 Q331.9,49.9 336,49.9 L383,49.9" fill="none" stroke="#f7f8f3" stroke-width="1.1"/>
</g>
<path d="M335,48.6 L383,48.6 Q387.4,48.6 387.4,53 L387.4,120 C387.4,135 382.4,140 383,150 C384,164 395,175 408,177 C420,178.6 427,174.8 434,174.8 L742,174.2 C755,174.2 762,178.5 773,178.5 C788,178.5 799,166 799.8,153 C800.2,141 796.5,136 796.5,126 L796.5,53 Q796.5,48.6 801,48.6 L853,48.6 L853,568.4 L821,568.4 Q815.3,568.4 815.3,562.5 L815.3,350 C816,335 819.5,322 819,311 C818.5,298 810,287.2 800,285.6 C790,284 782,286.4 770,288.6 L760,289 L478,288.5 C465,288.2 460,284 452,284.4 C440,285 428,295 425.8,308 C424.5,320 427,330 428.6,340 L428.8,560 Q428.8,566.8 422,566.8 L329,566.8 Q322.5,566.8 322.5,560 L322.5,248 L330,246 L335,200.3 L328.4,197.2 L330.6,173.6 L330.6,53 Q330.6,48.6 335,48.6 Z" fill="none" stroke="#43433d" stroke-width="0.9"/>
<polygon points="849.9,49.3 849.9,200.6 850.7,200.6 850.7,264.6 852.0,264.6 853.5,559.3 853.5,567.6 872.0,567.6 872.0,49.3" fill="#ffffff" />
<clipPath id="ch"><polygon points="328.6,197.6 334.6,200.6 329.6,245.6 322.8,247.4"/></clipPath>
<g clip-path="url(#ch)">
<rect x="320.0" y="196.0" width="17.0" height="53.0" fill="#c9cabb" />
<path d="M320,198.0L337,196.6M320,199.8L337,198.4M320,201.6L337,200.2M320,203.4L337,202.0M320,205.2L337,203.8M320,207.0L337,205.6M320,208.8L337,207.4M320,210.6L337,209.2M320,212.4L337,211.0M320,214.2L337,212.8M320,216.0L337,214.6M320,217.8L337,216.4M320,219.6L337,218.2M320,221.4L337,220.0M320,223.2L337,221.8M320,225.0L337,223.6M320,226.8L337,225.4M320,228.6L337,227.2M320,230.4L337,229.0M320,232.2L337,230.8M320,234.0L337,232.6M320,235.8L337,234.4M320,237.6L337,236.2M320,239.4L337,238.0M320,241.2L337,239.8M320,243.0L337,241.6M320,244.8L337,243.4M320,246.6L337,245.2M320,248.4L337,247.0M320,250.2L337,248.8" fill="none" stroke="#b0b1a2" stroke-width="0.6"/>
</g>
<rect x="306.4" y="538.2" width="6.0" height="19.2" fill="#e4e7e0" rx="3" stroke="#43433d" stroke-width="0.8"/>
<rect x="412.5" y="49.3" width="357.5" height="99.5" fill="#909197" rx="4.5" stroke="#43433d" stroke-width="0.9"/>
<path d="M442.0,50.1V148.0M467.0,50.1V148.0M492.0,50.1V148.0M516.9,50.1V148.0M541.9,50.1V148.0M566.9,50.1V148.0M591.9,50.1V148.0M616.9,50.1V148.0M641.8,50.1V148.0M666.8,50.1V148.0M691.8,50.1V148.0M716.8,50.1V148.0M741.8,50.1V148.0M413.3,99.3H769.2" fill="none" stroke="#f6f6f6" stroke-width="1.15"/>
<rect x="413.4" y="50.2" width="355.7" height="97.7" fill="none" rx="3.7" stroke="#f4f4f4" stroke-width="0.7"/>
<rect x="454.6" y="314.8" width="65.3" height="161.5" fill="#909197" rx="5" stroke="#43433d" stroke-width="0.9"/>
<path d="M488.0,315.6V475.5M455.4,338.0H519.1M455.4,357.1H519.1M455.4,376.2H519.1M455.4,395.3H519.1M455.4,414.5H519.1M455.4,433.7H519.1M455.4,452.9H519.1" fill="none" stroke="#f6f6f6" stroke-width="1.15"/>
<rect x="455.5" y="315.7" width="63.5" height="159.7" fill="none" rx="4.2" stroke="#f4f4f4" stroke-width="0.7"/>
<rect x="544.6" y="314.8" width="65.8" height="161.5" fill="#909197" rx="5" stroke="#43433d" stroke-width="0.9"/>
<path d="M578.5,315.6V475.5M545.4,338.0H609.6M545.4,357.1H609.6M545.4,376.2H609.6M545.4,395.3H609.6M545.4,414.5H609.6M545.4,433.7H609.6M545.4,452.9H609.6" fill="none" stroke="#f6f6f6" stroke-width="1.15"/>
<rect x="545.5" y="315.7" width="64.0" height="159.7" fill="none" rx="4.2" stroke="#f4f4f4" stroke-width="0.7"/>
<rect x="635.0" y="314.8" width="65.2" height="161.5" fill="#909197" rx="5" stroke="#43433d" stroke-width="0.9"/>
<path d="M668.3,315.6V475.5M635.8,338.0H699.4M635.8,357.1H699.4M635.8,376.2H699.4M635.8,395.3H699.4M635.8,414.5H699.4M635.8,433.7H699.4M635.8,452.9H699.4" fill="none" stroke="#f6f6f6" stroke-width="1.15"/>
<rect x="635.9" y="315.7" width="63.4" height="159.7" fill="none" rx="4.2" stroke="#f4f4f4" stroke-width="0.7"/>
<rect x="725.3" y="314.8" width="65.4" height="161.5" fill="#909197" rx="5" stroke="#43433d" stroke-width="0.9"/>
<path d="M758.3,315.6V475.5M726.1,338.0H789.9M726.1,357.1H789.9M726.1,376.2H789.9M726.1,395.3H789.9M726.1,414.5H789.9M726.1,433.7H789.9M726.1,452.9H789.9" fill="none" stroke="#f6f6f6" stroke-width="1.15"/>
<rect x="726.2" y="315.7" width="63.6" height="159.7" fill="none" rx="4.2" stroke="#f4f4f4" stroke-width="0.7"/>
<rect x="454.6" y="501.0" width="336.1" height="66.6" fill="#909197" rx="5" stroke="#43433d" stroke-width="0.9"/>
<path d="M478.4,501.8V566.8M497.6,501.8V566.8M516.7,501.8V566.8M535.9,501.8V566.8M555.1,501.8V566.8M574.2,501.8V566.8M593.4,501.8V566.8M612.6,501.8V566.8M631.8,501.8V566.8M650.9,501.8V566.8M670.1,501.8V566.8M689.3,501.8V566.8M708.4,501.8V566.8M727.6,501.8V566.8M746.8,501.8V566.8M766.0,501.8V566.8M455.4,532.9H789.9" fill="none" stroke="#f6f6f6" stroke-width="1.15"/>
<rect x="455.5" y="501.9" width="334.3" height="64.8" fill="none" rx="4.2" stroke="#f4f4f4" stroke-width="0.7"/>
<text transform="translate(365.3 39.80) scale(1 0.947)" x="0" y="0" font-size="10" fill="#262622" textLength="77.9" lengthAdjust="spacingAndGlyphs" stroke="#262622" stroke-width="0.2" >POMELO AVENUE</text>
<text transform="translate(169.6 132.10) scale(1 0.995)" x="0" y="0" font-size="10.2" fill="#262622" textLength="65.7" lengthAdjust="spacingAndGlyphs" stroke="#262622" stroke-width="0.2" >TROPIC COURT</text>
<text transform="translate(557.6 165.70) scale(1 0.947)" x="0" y="0" font-size="10" fill="#262622" textLength="60.4" lengthAdjust="spacingAndGlyphs" stroke="#262622" stroke-width="0.2" >LUMIA CIRCLE</text>
<text transform="translate(586.5 305.00) scale(1 0.947)" x="0" y="0" font-size="10" fill="#262622" textLength="71.7" lengthAdjust="spacingAndGlyphs" stroke="#262622" stroke-width="0.2" >FUCHSIA CIRCLE</text>
<text transform="translate(598.6 491.90) scale(1 0.947)" x="0" y="0" font-size="10" fill="#262622" textLength="47.3" lengthAdjust="spacingAndGlyphs" stroke="#262622" stroke-width="0.2" >YUZU WAY</text>
<text transform="translate(495.5 583.60) scale(1 0.947)" x="0" y="0" font-size="10" fill="#262622" textLength="86.3" lengthAdjust="spacingAndGlyphs" stroke="#262622" stroke-width="0.2" >DOMESTIC AVENUE</text>
<text transform="translate(124.1 338.90) scale(1 0.997)" x="0" y="0" font-size="11.7" fill="#262622" textLength="51.1" lengthAdjust="spacingAndGlyphs" stroke="#262622" stroke-width="0.2" >CITY PARK</text>
<text transform="translate(399.7 101.6) rotate(-90) translate(0 3.70) scale(1 1.015)" x="-41.9" y="0" font-size="10" fill="#262622" textLength="83.8" lengthAdjust="spacingAndGlyphs" stroke="#262622" stroke-width="0.2">OROBLANCO WAY</text>
<text transform="translate(781.6 101.8) rotate(-90) translate(0 3.70) scale(1 1.015)" x="-36.0" y="0" font-size="10" fill="#262622" textLength="72.0" lengthAdjust="spacingAndGlyphs" stroke="#262622" stroke-width="0.2">KUMQUAT LANE</text>
<text transform="translate(309.5 335.3) rotate(-90) translate(0 3.85) scale(1 1.056)" x="-41.3" y="0" font-size="10" fill="#262622" textLength="82.6" lengthAdjust="spacingAndGlyphs" stroke="#262622" stroke-width="0.2">BERGAMOT STREET</text>
<text transform="translate(441.3 441.7) rotate(-90) translate(0 3.70) scale(1 1.015)" x="-26.4" y="0" font-size="10" fill="#262622" textLength="52.8" lengthAdjust="spacingAndGlyphs" stroke="#262622" stroke-width="0.2">ZEST STREET</text>
<text transform="translate(532.3 402.5) rotate(-90) translate(0 3.70) scale(1 1.015)" x="-39.5" y="0" font-size="10" fill="#262622" textLength="79.0" lengthAdjust="spacingAndGlyphs" stroke="#262622" stroke-width="0.2">MANDARIN LANE</text>
<text transform="translate(622.2 403.0) rotate(-90) translate(0 3.70) scale(1 1.015)" x="-28.0" y="0" font-size="10" fill="#262622" textLength="56.0" lengthAdjust="spacingAndGlyphs" stroke="#262622" stroke-width="0.2">MEYER LANE</text>
<text transform="translate(713.0 402.2) rotate(-90) translate(0 3.70) scale(1 1.015)" x="-34.8" y="0" font-size="10" fill="#262622" textLength="69.5" lengthAdjust="spacingAndGlyphs" stroke="#262622" stroke-width="0.2">TANGELO LANE</text>
<text transform="translate(805.6 440.7) rotate(-90) translate(0 3.70) scale(1 1.015)" x="-43.2" y="0" font-size="10" fill="#262622" textLength="86.5" lengthAdjust="spacingAndGlyphs" stroke="#262622" stroke-width="0.2">GRAPEFRUIT STREET</text>
<text x="379.8" y="217.3" font-size="5.9" fill="#46543f" text-anchor="middle" textLength="39.0" lengthAdjust="spacingAndGlyphs" >PLAYGROUND</text>
<text x="379.8" y="223.9" font-size="5.9" fill="#46543f" text-anchor="middle" textLength="31.5" lengthAdjust="spacingAndGlyphs" >&amp; AMENITY</text>
<text x="818.4" y="213.1" font-size="5.9" fill="#46543f" text-anchor="middle" textLength="38.8" lengthAdjust="spacingAndGlyphs" >PLAYGROUND</text>
<text x="817.9" y="219.9" font-size="5.9" fill="#46543f" text-anchor="middle" textLength="31.7" lengthAdjust="spacingAndGlyphs" >&amp; AMENITY</text>
<rect x="150.4" y="611.0" width="224.7" height="181.3" fill="#dcdcdc" rx="9"/>
<rect x="185.9" y="621.4" width="153.7" height="128.8" fill="#c9937d" stroke="#f3e3d8" stroke-width="1.2"/>
<text x="262.3" y="633.7" font-size="10" fill="#1d1612" text-anchor="middle" textLength="81.0" lengthAdjust="spacingAndGlyphs" stroke="#1d1612" stroke-width="0.25">Willow at Live Oak</text>
<path d="M195,639.9 H330.2" fill="none" stroke="#15110f" stroke-width="1.2"/>
<polygon points="202.3,650.9 210.1,664.5 194.5,664.5" fill="#7d97cc" stroke="#fdf7f2" stroke-width="1.3"/>
<text x="222.1" y="661.3" font-size="10" fill="#1d1612" text-anchor="start" textLength="64.1" lengthAdjust="spacingAndGlyphs" stroke="#1d1612" stroke-width="0.25">Residence One</text>
<polygon points="202.3,674.5 210.1,688.1 194.5,688.1" fill="#55964a" stroke="#fdf7f2" stroke-width="1.3"/>
<text x="222.1" y="684.9" font-size="10" fill="#1d1612" text-anchor="start" textLength="62.0" lengthAdjust="spacingAndGlyphs" stroke="#1d1612" stroke-width="0.25">Residence Two</text>
<polygon points="202.3,698.7 210.1,712.3 194.5,712.3" fill="#cf2f6c" stroke="#fdf7f2" stroke-width="1.3"/>
<text x="222.1" y="709.1" font-size="10" fill="#1d1612" text-anchor="start" textLength="67.3" lengthAdjust="spacingAndGlyphs" stroke="#1d1612" stroke-width="0.25">Residence Three</text>
<polygon points="202.3,722.3 210.1,735.9 194.5,735.9" fill="#77588f" stroke="#fdf7f2" stroke-width="1.3"/>
<text x="222.1" y="732.7" font-size="10" fill="#1d1612" text-anchor="start" textLength="63.5" lengthAdjust="spacingAndGlyphs" stroke="#1d1612" stroke-width="0.25">Residence Four</text>
<path d="M160.8,759.3 H364.1" fill="none" stroke="#15110f" stroke-width="1.3"/>
<rect x="160.5" y="766.6" width="95.2" height="18.2" fill="#f6e7a6" stroke="#fbf3d4" stroke-width="1"/>
<rect x="265.1" y="766.6" width="99.0" height="18.2" fill="#e8952c" stroke="#f2b266" stroke-width="1"/>
<text x="208.3" y="778.6" font-size="10" fill="#1d1612" text-anchor="middle" textLength="56.0" lengthAdjust="spacingAndGlyphs" stroke="#1d1612" stroke-width="0.25">Model Home</text>
<text x="314.5" y="778.6" font-size="10" fill="#1d1612" text-anchor="middle" textLength="62.2" lengthAdjust="spacingAndGlyphs" stroke="#1d1612" stroke-width="0.25">Model Parking</text>
<circle cx="724" cy="699.7" r="47.3" fill="#bcc6de"/>
<polygon points="724.0,668.0 753.8,699.6 739.6,699.6 739.6,750.0 707.8,750.0 707.8,699.6 694.7,699.6" fill="#ffffff" />
<text x="725.6" y="764.9" font-size="11.2" fill="#1c1c1e" text-anchor="middle" textLength="56.8" lengthAdjust="spacingAndGlyphs" font-weight="bold" letter-spacing="2.6">NORTH</text>
</svg>
</body></html>
